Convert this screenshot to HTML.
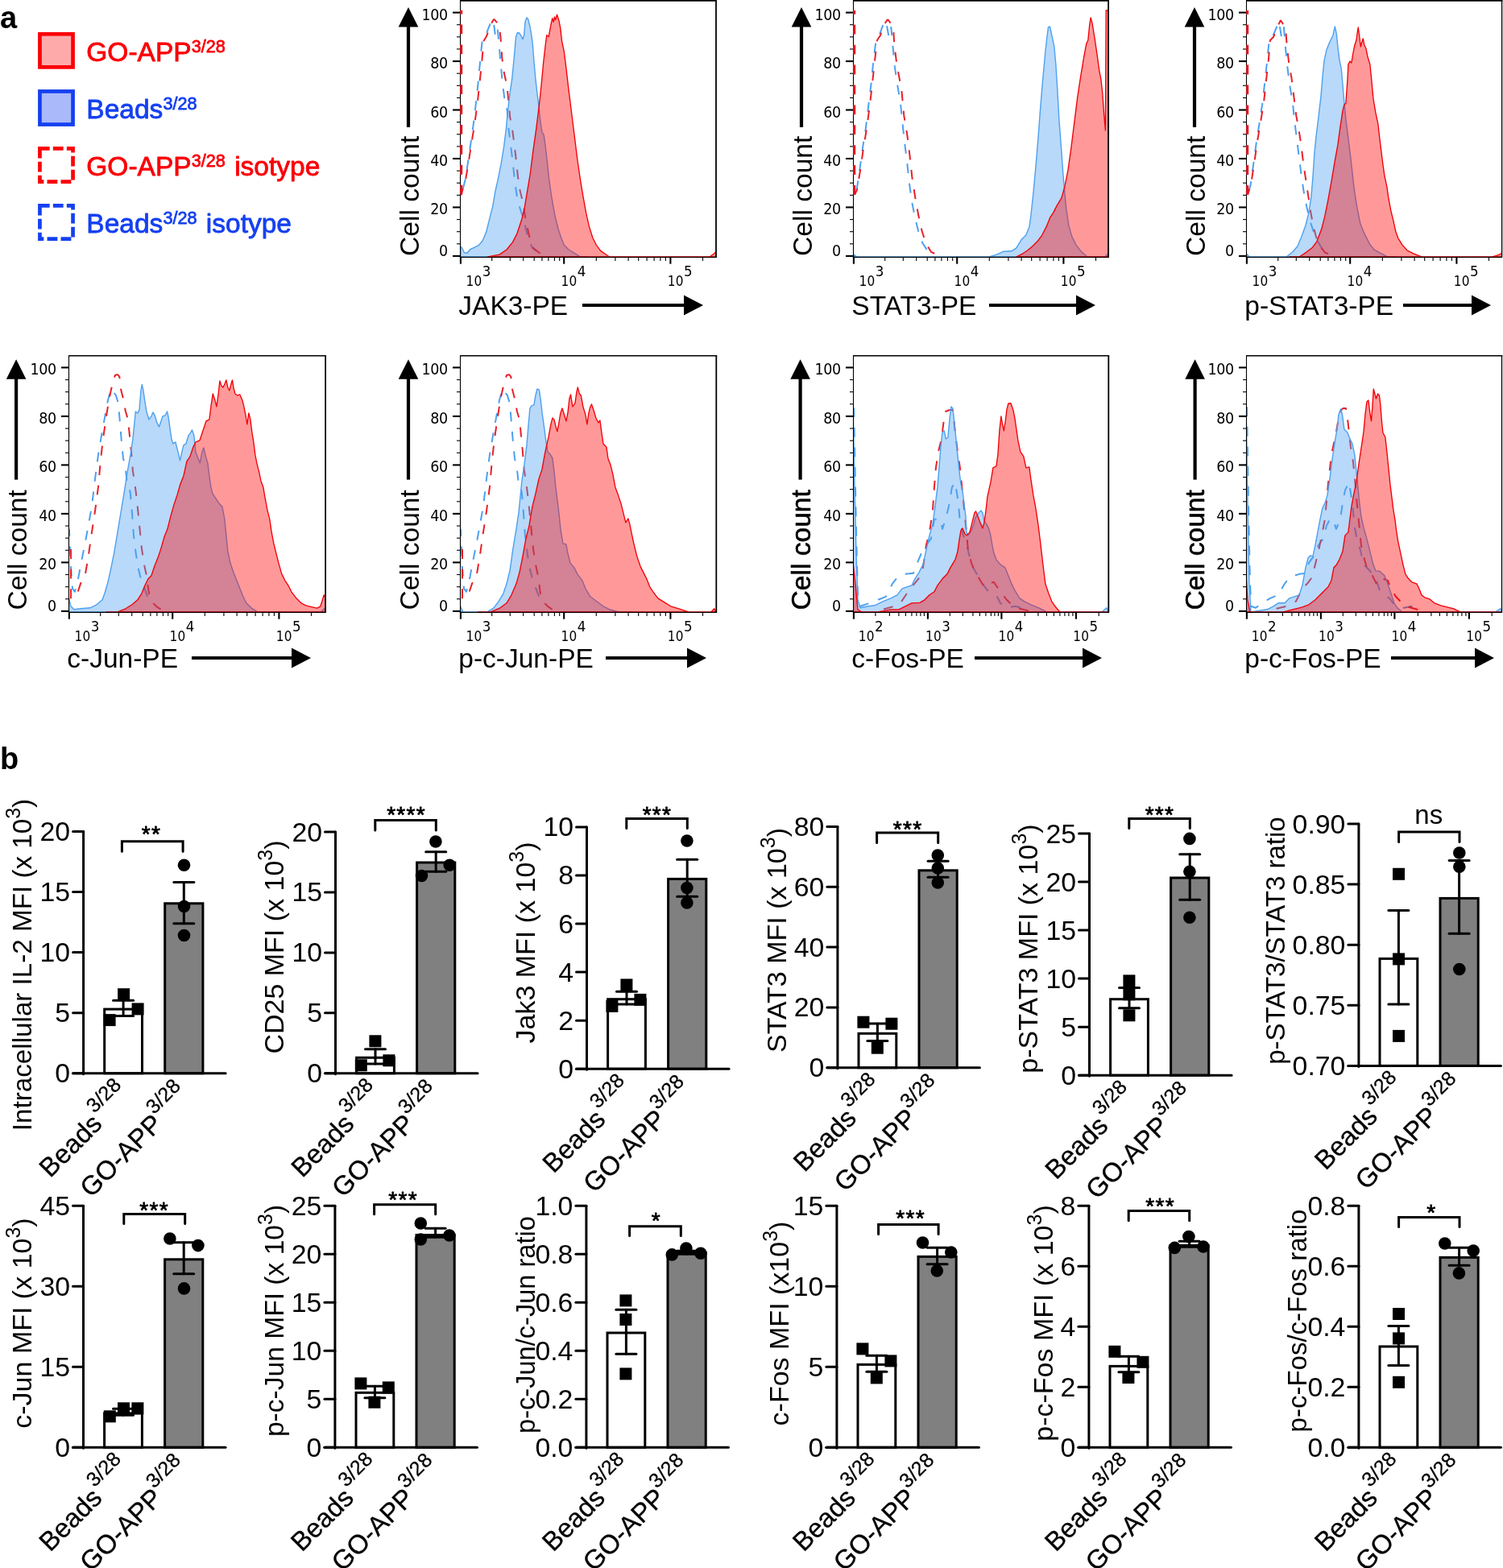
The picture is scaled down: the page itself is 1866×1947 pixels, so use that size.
<!DOCTYPE html>
<html lang="en">
<head>
<meta charset="utf-8">
<title>Figure</title>
<style>
html,body{margin:0;padding:0;background:#fff;}
body{width:1866px;height:1947px;overflow:hidden;}
svg{display:block;}
text{white-space:pre;}
</style>
</head>
<body>
<svg width="1866" height="1947" viewBox="0 0 1866 1947">
<rect x="0" y="0" width="1866" height="1947" fill="#fff"/>
<text x="0" y="34.5" font-family='"Liberation Sans", Arial, Helvetica, sans-serif' font-size="38" font-weight="bold" fill="#000">a</text>
<text x="0" y="954.5" font-family='"Liberation Sans", Arial, Helvetica, sans-serif' font-size="38" font-weight="bold" fill="#000">b</text>
<rect x="49.45" y="42.25" width="41.1" height="41.1" fill="#ffaaaa" stroke="#fb0007" stroke-width="4.7"/>
<text x="107.3" y="75.9" font-family='"Liberation Sans", Arial, Helvetica, sans-serif' font-size="33.5" fill="#fb0007" stroke="#fb0007" stroke-width="0.8" stroke-linejoin="round">GO-APP<tspan font-size="21.6" dx="0.2" dy="-10.8">3/28</tspan></text>
<rect x="49.45" y="113.45" width="41.1" height="41.1" fill="#aab9fa" stroke="#1540f0" stroke-width="4.7"/>
<text x="107.3" y="147.1" font-family='"Liberation Sans", Arial, Helvetica, sans-serif' font-size="33.5" fill="#1540f0" stroke="#1540f0" stroke-width="0.8" stroke-linejoin="round">Beads<tspan font-size="21.6" dx="0.2" dy="-10.8">3/28</tspan></text>
<rect x="49.45" y="184.45" width="41.1" height="41.1" fill="none" stroke="#fb0007" stroke-width="4.7" stroke-dasharray="12.8 4.2" stroke-dashoffset="0.6"/>
<text x="107.3" y="218.1" font-family='"Liberation Sans", Arial, Helvetica, sans-serif' font-size="33.5" fill="#fb0007" stroke="#fb0007" stroke-width="0.8" stroke-linejoin="round">GO-APP<tspan font-size="21.6" dx="0.2" dy="-10.8">3/28</tspan><tspan dx="2" dy="10.8"> isotype</tspan></text>
<rect x="49.45" y="255.45" width="41.1" height="41.1" fill="none" stroke="#1540f0" stroke-width="4.7" stroke-dasharray="12.8 4.2" stroke-dashoffset="0.6"/>
<text x="107.3" y="289.1" font-family='"Liberation Sans", Arial, Helvetica, sans-serif' font-size="33.5" fill="#1540f0" stroke="#1540f0" stroke-width="0.8" stroke-linejoin="round">Beads<tspan font-size="21.6" dx="0.2" dy="-10.8">3/28</tspan><tspan dx="2" dy="10.8"> isotype</tspan></text>
<g>
<clipPath id="clip1"><rect x="571" y="0.9" width="318" height="318.4"/></clipPath>
<g clip-path="url(#clip1)">
<polyline points="612.48,24.6 609.56,27.33 605.92,36.44 602.27,45.55 598.63,51.02 596.08,76.53 593.71,102.04 590.98,127.55 587.7,154.88 584.6,176.74 581.14,200.43 577.86,222.29 574.58,235.05 572.39,242.34" fill="none" stroke="#4da0f0" stroke-width="2" stroke-dasharray="12 12.6" stroke-dashoffset="18.3" stroke-linejoin="round" stroke-opacity="1"/>
<polyline points="612.48,24.6 614.66,41.91 617.4,32.8 619.22,51.02 621.04,72.88 623.77,102.04 626.51,123.9 629.6,136.66 631.06,156.7 633.79,178.56 636.53,200.43 639.26,225.94 642.36,247.8 645.64,258.74 649.28,269.67 652.93,284.24 656.57,298.82 661.13,307.93 669.32,314.31" fill="none" stroke="#4da0f0" stroke-width="2" stroke-dasharray="12 12.6" stroke-dashoffset="18.3" stroke-linejoin="round" stroke-opacity="1"/>
<polyline points="613.2,23.69 611.02,27.33 607.37,36.44 603.73,45.55 600.45,51.02 598.26,76.53 595.53,102.04 592.8,127.55 589.15,154.88 585.51,176.74 581.86,200.43 578.22,222.29 574.58,235.05 572.39,242.34" fill="none" stroke="#e8141e" stroke-width="2" stroke-dasharray="12 12.6" stroke-dashoffset="6" stroke-linejoin="round" stroke-opacity="0.95"/>
<polyline points="613.2,23.69 616.48,27.33 619.76,31.89 621.59,47.37 623.41,72.88 625.96,91.1 629.24,105.68 631.43,125.72 633.25,145.77 636.53,163.99 640.17,193.14 642.9,218.65 645.64,236.87 649.28,251.45 652.02,269.67 655.11,284.24 658.39,298.82 662.04,307.93 669.32,313.76 680.26,317.41" fill="none" stroke="#e8141e" stroke-width="2" stroke-dasharray="12 12.6" stroke-dashoffset="6" stroke-linejoin="round" stroke-opacity="0.95"/>
<polygon points="571.84,318.95 571.84,306.11 573.67,307.93 576.4,313.76 580.04,314.31 583.69,309.75 589.15,307.02 594.62,304.29 599.17,298.82 603.73,287.89 608.29,269.67 611.93,255.09 614.66,238.69 618.31,222.29 621.95,204.07 625.59,182.21 628.33,160.34 630.15,140.3 632.88,116.61 635.62,98.39 637.44,80.17 639.26,60.13 640.54,45.55 642.36,40.45 644.73,41 647.1,44.64 648.92,48.83 650.56,43.73 652.02,27.33 653.84,21.86 655.66,23.69 657.48,30.98 659.3,40.09 661.13,52.84 662.95,76.53 664.77,96.57 666.59,112.97 668.78,131.19 671.15,153.05 672.97,163.99 675.16,167.63 676.98,180.39 679.35,200.43 681.17,218.65 683.9,238.69 686.63,255.09 689.37,269.67 693.01,284.24 696.66,295.18 700.3,304.29 705.77,309.75 713.05,314.31 720.34,318.95 727.63,318.95" fill="#4da0f0" fill-opacity="0.4" stroke="#4da0f0" stroke-width="1.4" stroke-linejoin="round"/>
<polygon points="605.55,318.95 620.13,316.13 629.24,309.75 636.53,300.64 641.99,289.71 647.46,273.31 651.1,258.74 654.75,236.87 658.39,215.01 662.04,185.85 665.68,160.34 669.32,131.19 672.06,105.68 674.79,76.53 677.52,52.84 678.8,43.73 681.17,45.55 683.9,30.98 685.72,22.78 687.18,27.33 688.46,20.95 689.73,24.6 691.55,18.22 693.92,25.51 695.74,34.62 697.57,51.02 700.3,63.77 703.03,85.64 705.77,109.32 709.41,138.48 713.05,167.63 716.7,196.78 720.34,222.29 723.99,244.16 727.63,264.2 731.28,280.6 735.83,295.18 740.39,304.29 745.85,311.58 751.32,315.22 756.78,318.95 767.72,318.95 880.69,318.95 886.15,315.22 888.89,312.49 888.89,318.95" fill="#ff0000" fill-opacity="0.4" stroke="#f20008" stroke-width="1.35" stroke-linejoin="round"/>
</g>
<g stroke="#000" stroke-linecap="butt">
<line x1="571.5" y1="0.1" x2="571.5" y2="319.9" stroke-width="1.1"/>
<line x1="571" y1="0.9" x2="889.9" y2="0.9" stroke-width="1.8"/>
<line x1="889" y1="0.9" x2="889" y2="319.9" stroke-width="1.8"/>
<line x1="571.5" y1="319.3" x2="889" y2="319.3" stroke-width="1.2"/>
</g>
<line x1="562" y1="317.9" x2="571.5" y2="317.9" stroke="#000" stroke-width="2.1"/>
<text x="555.6" y="318" font-family='"DejaVu Sans Condensed", "DejaVu Sans", "Liberation Sans", sans-serif' font-size="19.5" letter-spacing="-0.5" text-anchor="end" fill="#000">0</text>
<line x1="567" y1="302.79" x2="571.5" y2="302.79" stroke="#000" stroke-width="1.1"/>
<line x1="567" y1="287.67" x2="571.5" y2="287.67" stroke="#000" stroke-width="1.1"/>
<line x1="567" y1="272.56" x2="571.5" y2="272.56" stroke="#000" stroke-width="1.1"/>
<line x1="562" y1="257.44" x2="571.5" y2="257.44" stroke="#000" stroke-width="2.1"/>
<text x="555.6" y="266.44" font-family='"DejaVu Sans Condensed", "DejaVu Sans", "Liberation Sans", sans-serif' font-size="19.5" letter-spacing="-0.5" text-anchor="end" fill="#000">20</text>
<line x1="567" y1="242.33" x2="571.5" y2="242.33" stroke="#000" stroke-width="1.1"/>
<line x1="567" y1="227.21" x2="571.5" y2="227.21" stroke="#000" stroke-width="1.1"/>
<line x1="567" y1="212.1" x2="571.5" y2="212.1" stroke="#000" stroke-width="1.1"/>
<line x1="562" y1="196.98" x2="571.5" y2="196.98" stroke="#000" stroke-width="2.1"/>
<text x="555.6" y="205.98" font-family='"DejaVu Sans Condensed", "DejaVu Sans", "Liberation Sans", sans-serif' font-size="19.5" letter-spacing="-0.5" text-anchor="end" fill="#000">40</text>
<line x1="567" y1="181.87" x2="571.5" y2="181.87" stroke="#000" stroke-width="1.1"/>
<line x1="567" y1="166.75" x2="571.5" y2="166.75" stroke="#000" stroke-width="1.1"/>
<line x1="567" y1="151.64" x2="571.5" y2="151.64" stroke="#000" stroke-width="1.1"/>
<line x1="562" y1="136.52" x2="571.5" y2="136.52" stroke="#000" stroke-width="2.1"/>
<text x="555.6" y="145.52" font-family='"DejaVu Sans Condensed", "DejaVu Sans", "Liberation Sans", sans-serif' font-size="19.5" letter-spacing="-0.5" text-anchor="end" fill="#000">60</text>
<line x1="567" y1="121.41" x2="571.5" y2="121.41" stroke="#000" stroke-width="1.1"/>
<line x1="567" y1="106.29" x2="571.5" y2="106.29" stroke="#000" stroke-width="1.1"/>
<line x1="567" y1="91.18" x2="571.5" y2="91.18" stroke="#000" stroke-width="1.1"/>
<line x1="562" y1="76.06" x2="571.5" y2="76.06" stroke="#000" stroke-width="2.1"/>
<text x="555.6" y="85.06" font-family='"DejaVu Sans Condensed", "DejaVu Sans", "Liberation Sans", sans-serif' font-size="19.5" letter-spacing="-0.5" text-anchor="end" fill="#000">80</text>
<line x1="567" y1="60.95" x2="571.5" y2="60.95" stroke="#000" stroke-width="1.1"/>
<line x1="567" y1="45.83" x2="571.5" y2="45.83" stroke="#000" stroke-width="1.1"/>
<line x1="567" y1="30.72" x2="571.5" y2="30.72" stroke="#000" stroke-width="1.1"/>
<line x1="562" y1="15.6" x2="571.5" y2="15.6" stroke="#000" stroke-width="2.1"/>
<text x="555.6" y="24.6" font-family='"DejaVu Sans Condensed", "DejaVu Sans", "Liberation Sans", sans-serif' font-size="19.5" letter-spacing="-0.5" text-anchor="end" fill="#000">100</text>
<line x1="571.9" y1="318.8" x2="571.9" y2="327.7" stroke="#000" stroke-width="2.1"/>
<line x1="700.2" y1="318.8" x2="700.2" y2="327.7" stroke="#000" stroke-width="2.1"/>
<line x1="832.4" y1="318.8" x2="832.4" y2="327.7" stroke="#000" stroke-width="2.1"/>
<line x1="610.7" y1="319.3" x2="610.7" y2="323.9" stroke="#000" stroke-width="1.1"/>
<line x1="633.3" y1="319.3" x2="633.3" y2="323.9" stroke="#000" stroke-width="1.1"/>
<line x1="649.7" y1="319.3" x2="649.7" y2="323.9" stroke="#000" stroke-width="1.1"/>
<line x1="663.2" y1="319.3" x2="663.2" y2="323.9" stroke="#000" stroke-width="1.1"/>
<line x1="672.9" y1="319.3" x2="672.9" y2="323.9" stroke="#000" stroke-width="1.1"/>
<line x1="680.9" y1="319.3" x2="680.9" y2="323.9" stroke="#000" stroke-width="1.1"/>
<line x1="688.4" y1="319.3" x2="688.4" y2="323.9" stroke="#000" stroke-width="1.1"/>
<line x1="694.7" y1="319.3" x2="694.7" y2="323.9" stroke="#000" stroke-width="1.1"/>
<line x1="740.3" y1="319.3" x2="740.3" y2="323.9" stroke="#000" stroke-width="1.1"/>
<line x1="763.9" y1="319.3" x2="763.9" y2="323.9" stroke="#000" stroke-width="1.1"/>
<line x1="780.1" y1="319.3" x2="780.1" y2="323.9" stroke="#000" stroke-width="1.1"/>
<line x1="792.7" y1="319.3" x2="792.7" y2="323.9" stroke="#000" stroke-width="1.1"/>
<line x1="803.1" y1="319.3" x2="803.1" y2="323.9" stroke="#000" stroke-width="1.1"/>
<line x1="812.1" y1="319.3" x2="812.1" y2="323.9" stroke="#000" stroke-width="1.1"/>
<line x1="819.9" y1="319.3" x2="819.9" y2="323.9" stroke="#000" stroke-width="1.1"/>
<line x1="826.4" y1="319.3" x2="826.4" y2="323.9" stroke="#000" stroke-width="1.1"/>
<line x1="872.5" y1="319.3" x2="872.5" y2="323.9" stroke="#000" stroke-width="1.1"/>
<text x="578.5" y="355.1" font-family='"DejaVu Sans Condensed", "DejaVu Sans", "Liberation Sans", sans-serif' font-size="17" letter-spacing="0.3" fill="#000">10<tspan font-size="18.5" dx="0.2" dy="-12">3</tspan></text>
<text x="696.5" y="355.1" font-family='"DejaVu Sans Condensed", "DejaVu Sans", "Liberation Sans", sans-serif' font-size="17" letter-spacing="0.3" fill="#000">10<tspan font-size="18.5" dx="0.2" dy="-12">4</tspan></text>
<text x="828.8" y="355.1" font-family='"DejaVu Sans Condensed", "DejaVu Sans", "Liberation Sans", sans-serif' font-size="17" letter-spacing="0.3" fill="#000">10<tspan font-size="18.5" dx="0.2" dy="-12">5</tspan></text>
<line x1="572.7" y1="12.65" x2="572.7" y2="242.24" stroke="#e8141e" stroke-width="3" stroke-dasharray="11.8 13.1" stroke-dashoffset="7"/>
</g>
<text transform="translate(519.5 318) rotate(-90)" font-family='"Liberation Sans", Arial, Helvetica, sans-serif' font-size="33.6" fill="#000">Cell count</text>
<line x1="507" y1="158" x2="507" y2="32.5" stroke="#000" stroke-width="4.2"/>
<polygon points="494.7,33.5 519.3,33.5 507,9" fill="#000"/>
<text x="569.3" y="391" font-family='"Liberation Sans", Arial, Helvetica, sans-serif' font-size="33.5" fill="#000">JAK3-PE</text>
<line x1="723" y1="379" x2="850" y2="379" stroke="#000" stroke-width="4"/>
<polygon points="849,366.5 849,391.5 873,379" fill="#000"/>
<g>
<clipPath id="clip2"><rect x="1059" y="0.9" width="317.1" height="318.4"/></clipPath>
<g clip-path="url(#clip2)">
<polyline points="1099.96,25.98 1095.97,31.98 1091.57,43.97 1087.57,49.97 1084.37,75.95 1081.58,103.94 1078.38,129.92 1074.78,159.9 1070.98,183.89 1067.18,211.87 1063.59,235.86 1060.99,241.85" fill="none" stroke="#4da0f0" stroke-width="2" stroke-dasharray="12 12.6" stroke-dashoffset="18.3" stroke-linejoin="round" stroke-opacity="1"/>
<polyline points="1099.96,25.98 1103.56,45.97 1106.36,33.98 1108.36,55.97 1110.96,83.95 1113.96,103.94 1117.95,127.92 1120.35,151.91 1122.95,175.89 1125.95,199.88 1128.95,227.86 1132.34,251.85 1136.34,271.84 1140.34,287.83 1145.34,301.82 1151.93,311.81" fill="none" stroke="#4da0f0" stroke-width="2" stroke-dasharray="12 12.6" stroke-dashoffset="18.3" stroke-linejoin="round" stroke-opacity="1"/>
<polyline points="1101.96,23.99 1096.97,31.98 1092.97,43.97 1088.97,49.97 1085.97,75.95 1082.97,103.94 1079.98,129.92 1075.98,159.9 1071.98,183.89 1067.98,211.87 1063.99,235.86 1060.99,241.85" fill="none" stroke="#e8141e" stroke-width="2" stroke-dasharray="12 12.6" stroke-dashoffset="6" stroke-linejoin="round" stroke-opacity="0.95"/>
<polyline points="1101.96,23.99 1105.96,28.98 1108.96,32.98 1110.36,55.97 1113.36,79.95 1116.35,95.94 1119.35,111.93 1122.35,143.91 1126.35,167.9 1129.35,191.88 1132.34,219.87 1136.34,245.85 1140.34,267.84 1144.34,285.83 1149.33,301.82 1155.93,312.81 1165.92,317.41" fill="none" stroke="#e8141e" stroke-width="2" stroke-dasharray="12 12.6" stroke-dashoffset="6" stroke-linejoin="round" stroke-opacity="0.95"/>
<polygon points="1059.59,318.95 1059.59,315.81 1063.99,318.95 1227.89,318.95 1237.88,315.81 1245.88,312.21 1255.87,311.81 1261.87,307.82 1267.86,297.82 1273.86,291.82 1277.86,281.83 1279.86,267.84 1282.85,239.86 1285.85,207.88 1288.85,171.9 1291.85,131.92 1294.85,95.94 1297.85,63.96 1299.84,45.97 1301.44,33.98 1303.44,32.98 1305.84,43.97 1308.84,57.97 1310.84,79.95 1312.84,111.93 1314.84,147.91 1317.83,187.89 1319.83,215.87 1321.83,239.86 1323.83,259.84 1326.83,279.83 1330.83,293.82 1335.82,303.82 1341.82,311.81 1349.81,318.95 1359.81,318.95 1371.8,318.95 1375.8,314.81 1375.8,318.95" fill="#4da0f0" fill-opacity="0.4" stroke="#4da0f0" stroke-width="1.4" stroke-linejoin="round"/>
<polygon points="1261.87,318.95 1269.86,314.81 1275.86,310.81 1281.85,305.82 1287.85,299.82 1293.85,291.82 1299.84,279.83 1303.84,269.84 1307.84,263.84 1311.84,255.85 1317.83,245.85 1321.83,231.86 1325.83,211.87 1329.83,183.89 1333.82,151.91 1337.82,119.93 1341.82,93.94 1345.82,69.96 1348.81,53.97 1350.81,49.97 1352.81,29.98 1354.21,21.99 1356.21,29.98 1358.81,45.97 1361.81,65.96 1364.81,87.95 1366.8,97.94 1368.8,115.93 1370.8,143.91 1372.4,161.9 1373.2,12.99 1375.8,12.99 1375.8,318.95" fill="#ff0000" fill-opacity="0.4" stroke="#f20008" stroke-width="1.35" stroke-linejoin="round"/>
</g>
<g stroke="#000" stroke-linecap="butt">
<line x1="1059.5" y1="0.1" x2="1059.5" y2="319.9" stroke-width="1.1"/>
<line x1="1059" y1="0.9" x2="1377" y2="0.9" stroke-width="1.8"/>
<line x1="1376.1" y1="0.9" x2="1376.1" y2="319.9" stroke-width="1.8"/>
<line x1="1059.5" y1="319.3" x2="1376.1" y2="319.3" stroke-width="1.2"/>
</g>
<line x1="1050" y1="317.9" x2="1059.5" y2="317.9" stroke="#000" stroke-width="2.1"/>
<text x="1043.6" y="318" font-family='"DejaVu Sans Condensed", "DejaVu Sans", "Liberation Sans", sans-serif' font-size="19.5" letter-spacing="-0.5" text-anchor="end" fill="#000">0</text>
<line x1="1055" y1="302.79" x2="1059.5" y2="302.79" stroke="#000" stroke-width="1.1"/>
<line x1="1055" y1="287.67" x2="1059.5" y2="287.67" stroke="#000" stroke-width="1.1"/>
<line x1="1055" y1="272.56" x2="1059.5" y2="272.56" stroke="#000" stroke-width="1.1"/>
<line x1="1050" y1="257.44" x2="1059.5" y2="257.44" stroke="#000" stroke-width="2.1"/>
<text x="1043.6" y="266.44" font-family='"DejaVu Sans Condensed", "DejaVu Sans", "Liberation Sans", sans-serif' font-size="19.5" letter-spacing="-0.5" text-anchor="end" fill="#000">20</text>
<line x1="1055" y1="242.33" x2="1059.5" y2="242.33" stroke="#000" stroke-width="1.1"/>
<line x1="1055" y1="227.21" x2="1059.5" y2="227.21" stroke="#000" stroke-width="1.1"/>
<line x1="1055" y1="212.1" x2="1059.5" y2="212.1" stroke="#000" stroke-width="1.1"/>
<line x1="1050" y1="196.98" x2="1059.5" y2="196.98" stroke="#000" stroke-width="2.1"/>
<text x="1043.6" y="205.98" font-family='"DejaVu Sans Condensed", "DejaVu Sans", "Liberation Sans", sans-serif' font-size="19.5" letter-spacing="-0.5" text-anchor="end" fill="#000">40</text>
<line x1="1055" y1="181.87" x2="1059.5" y2="181.87" stroke="#000" stroke-width="1.1"/>
<line x1="1055" y1="166.75" x2="1059.5" y2="166.75" stroke="#000" stroke-width="1.1"/>
<line x1="1055" y1="151.64" x2="1059.5" y2="151.64" stroke="#000" stroke-width="1.1"/>
<line x1="1050" y1="136.52" x2="1059.5" y2="136.52" stroke="#000" stroke-width="2.1"/>
<text x="1043.6" y="145.52" font-family='"DejaVu Sans Condensed", "DejaVu Sans", "Liberation Sans", sans-serif' font-size="19.5" letter-spacing="-0.5" text-anchor="end" fill="#000">60</text>
<line x1="1055" y1="121.41" x2="1059.5" y2="121.41" stroke="#000" stroke-width="1.1"/>
<line x1="1055" y1="106.29" x2="1059.5" y2="106.29" stroke="#000" stroke-width="1.1"/>
<line x1="1055" y1="91.18" x2="1059.5" y2="91.18" stroke="#000" stroke-width="1.1"/>
<line x1="1050" y1="76.06" x2="1059.5" y2="76.06" stroke="#000" stroke-width="2.1"/>
<text x="1043.6" y="85.06" font-family='"DejaVu Sans Condensed", "DejaVu Sans", "Liberation Sans", sans-serif' font-size="19.5" letter-spacing="-0.5" text-anchor="end" fill="#000">80</text>
<line x1="1055" y1="60.95" x2="1059.5" y2="60.95" stroke="#000" stroke-width="1.1"/>
<line x1="1055" y1="45.83" x2="1059.5" y2="45.83" stroke="#000" stroke-width="1.1"/>
<line x1="1055" y1="30.72" x2="1059.5" y2="30.72" stroke="#000" stroke-width="1.1"/>
<line x1="1050" y1="15.6" x2="1059.5" y2="15.6" stroke="#000" stroke-width="2.1"/>
<text x="1043.6" y="24.6" font-family='"DejaVu Sans Condensed", "DejaVu Sans", "Liberation Sans", sans-serif' font-size="19.5" letter-spacing="-0.5" text-anchor="end" fill="#000">100</text>
<line x1="1059.9" y1="318.8" x2="1059.9" y2="327.7" stroke="#000" stroke-width="2.1"/>
<line x1="1188.2" y1="318.8" x2="1188.2" y2="327.7" stroke="#000" stroke-width="2.1"/>
<line x1="1320.4" y1="318.8" x2="1320.4" y2="327.7" stroke="#000" stroke-width="2.1"/>
<line x1="1098.7" y1="319.3" x2="1098.7" y2="323.9" stroke="#000" stroke-width="1.1"/>
<line x1="1121.3" y1="319.3" x2="1121.3" y2="323.9" stroke="#000" stroke-width="1.1"/>
<line x1="1137.7" y1="319.3" x2="1137.7" y2="323.9" stroke="#000" stroke-width="1.1"/>
<line x1="1151.2" y1="319.3" x2="1151.2" y2="323.9" stroke="#000" stroke-width="1.1"/>
<line x1="1160.9" y1="319.3" x2="1160.9" y2="323.9" stroke="#000" stroke-width="1.1"/>
<line x1="1168.9" y1="319.3" x2="1168.9" y2="323.9" stroke="#000" stroke-width="1.1"/>
<line x1="1176.4" y1="319.3" x2="1176.4" y2="323.9" stroke="#000" stroke-width="1.1"/>
<line x1="1182.7" y1="319.3" x2="1182.7" y2="323.9" stroke="#000" stroke-width="1.1"/>
<line x1="1228.3" y1="319.3" x2="1228.3" y2="323.9" stroke="#000" stroke-width="1.1"/>
<line x1="1251.9" y1="319.3" x2="1251.9" y2="323.9" stroke="#000" stroke-width="1.1"/>
<line x1="1268.1" y1="319.3" x2="1268.1" y2="323.9" stroke="#000" stroke-width="1.1"/>
<line x1="1280.7" y1="319.3" x2="1280.7" y2="323.9" stroke="#000" stroke-width="1.1"/>
<line x1="1291.1" y1="319.3" x2="1291.1" y2="323.9" stroke="#000" stroke-width="1.1"/>
<line x1="1300.1" y1="319.3" x2="1300.1" y2="323.9" stroke="#000" stroke-width="1.1"/>
<line x1="1307.9" y1="319.3" x2="1307.9" y2="323.9" stroke="#000" stroke-width="1.1"/>
<line x1="1314.4" y1="319.3" x2="1314.4" y2="323.9" stroke="#000" stroke-width="1.1"/>
<line x1="1360.5" y1="319.3" x2="1360.5" y2="323.9" stroke="#000" stroke-width="1.1"/>
<text x="1066.5" y="355.1" font-family='"DejaVu Sans Condensed", "DejaVu Sans", "Liberation Sans", sans-serif' font-size="17" letter-spacing="0.3" fill="#000">10<tspan font-size="18.5" dx="0.2" dy="-12">3</tspan></text>
<text x="1184.5" y="355.1" font-family='"DejaVu Sans Condensed", "DejaVu Sans", "Liberation Sans", sans-serif' font-size="17" letter-spacing="0.3" fill="#000">10<tspan font-size="18.5" dx="0.2" dy="-12">4</tspan></text>
<text x="1316.8" y="355.1" font-family='"DejaVu Sans Condensed", "DejaVu Sans", "Liberation Sans", sans-serif' font-size="17" letter-spacing="0.3" fill="#000">10<tspan font-size="18.5" dx="0.2" dy="-12">5</tspan></text>
<line x1="1060.7" y1="12.89" x2="1060.7" y2="241.75" stroke="#e8141e" stroke-width="3" stroke-dasharray="11.8 13.1" stroke-dashoffset="7"/>
</g>
<text transform="translate(1007.5 318) rotate(-90)" font-family='"Liberation Sans", Arial, Helvetica, sans-serif' font-size="33.6" fill="#000">Cell count</text>
<line x1="995" y1="158" x2="995" y2="32.5" stroke="#000" stroke-width="4.2"/>
<polygon points="982.7,33.5 1007.3,33.5 995,9" fill="#000"/>
<text x="1057.3" y="391" font-family='"Liberation Sans", Arial, Helvetica, sans-serif' font-size="33.5" fill="#000">STAT3-PE</text>
<line x1="1228" y1="379" x2="1337" y2="379" stroke="#000" stroke-width="4"/>
<polygon points="1336,366.5 1336,391.5 1360,379" fill="#000"/>
<g>
<clipPath id="clip3"><rect x="1547" y="0.9" width="317.6" height="318.4"/></clipPath>
<g clip-path="url(#clip3)">
<polyline points="1587.94,26.98 1583.95,35.98 1579.75,45.97 1575.75,49.97 1573.35,73.96 1570.55,99.94 1567.36,127.92 1563.76,151.91 1559.96,175.89 1556.16,203.88 1552.56,229.86 1548.97,241.85" fill="none" stroke="#4da0f0" stroke-width="2" stroke-dasharray="12 12.6" stroke-dashoffset="18.3" stroke-linejoin="round" stroke-opacity="1"/>
<polyline points="1587.94,26.98 1590.94,45.97 1593.94,33.98 1595.34,51.97 1597.94,79.95 1600.94,103.94 1604.93,127.92 1607.33,151.91 1609.93,171.9 1612.93,195.88 1615.93,219.87 1618.92,239.86 1622.92,259.84 1626.92,275.83 1630.92,287.83 1635.91,299.82 1640.91,307.82" fill="none" stroke="#4da0f0" stroke-width="2" stroke-dasharray="12 12.6" stroke-dashoffset="18.3" stroke-linejoin="round" stroke-opacity="1"/>
<polyline points="1589.94,24.99 1584.94,35.98 1580.95,45.97 1576.95,49.97 1574.95,73.96 1571.95,99.94 1568.95,127.92 1564.96,151.91 1560.96,175.89 1556.96,203.88 1552.96,229.86 1548.97,241.85" fill="none" stroke="#e8141e" stroke-width="2" stroke-dasharray="12 12.6" stroke-dashoffset="6" stroke-linejoin="round" stroke-opacity="0.95"/>
<polyline points="1589.94,24.99 1592.94,29.98 1595.94,32.98 1597.34,51.97 1600.34,79.95 1603.33,95.94 1606.33,119.93 1609.33,143.91 1612.33,159.9 1615.33,179.89 1618.32,203.88 1621.32,223.87 1624.32,243.85 1627.32,263.84 1630.32,279.83 1633.32,291.82 1637.31,303.82 1645.31,313.81 1656.9,317.81" fill="none" stroke="#e8141e" stroke-width="2" stroke-dasharray="12 12.6" stroke-dashoffset="6" stroke-linejoin="round" stroke-opacity="0.95"/>
<polygon points="1547.37,318.95 1547.37,314.81 1550.97,318.95 1582.95,318.95 1596.94,318.95 1604.93,312.81 1610.93,305.82 1615.93,293.82 1620.92,279.83 1624.92,263.84 1627.92,243.85 1629.92,219.87 1631.92,189.89 1633.92,169.9 1636.91,145.91 1639.91,119.93 1641.91,95.94 1643.91,75.95 1646.91,61.96 1650.91,51.97 1654.9,43.97 1657.3,32.98 1659.3,41.97 1660.9,57.97 1662.9,73.96 1665.3,85.95 1666.9,103.94 1668.89,127.92 1670.89,147.91 1672.89,163.9 1674.89,179.89 1676.89,195.88 1678.89,213.87 1680.89,231.86 1682.89,245.85 1684.88,257.85 1686.88,267.84 1688.88,277.83 1692.88,287.83 1696.88,295.82 1700.88,303.82 1705.87,309.81 1712.87,313.81 1722.86,318.95 1732.86,318.95" fill="#4da0f0" fill-opacity="0.4" stroke="#4da0f0" stroke-width="1.4" stroke-linejoin="round"/>
<polygon points="1600.94,318.95 1612.93,318.95 1620.92,313.81 1628.92,307.82 1634.91,299.82 1640.91,283.83 1644.91,267.84 1648.91,247.85 1652.9,225.86 1656.9,201.88 1660.9,179.89 1663.9,157.91 1666.9,137.92 1668.89,129.92 1670.89,127.92 1672.89,99.94 1673.89,79.95 1675.89,75.95 1677.89,77.95 1679.89,65.96 1681.89,55.97 1683.89,49.97 1685.28,39.98 1686.28,33.98 1687.88,45.97 1689.28,57.97 1690.88,51.97 1692.28,47.97 1693.88,55.97 1695.88,59.96 1697.88,69.96 1700.88,79.95 1702.87,99.94 1704.87,121.93 1707.87,139.92 1710.87,153.91 1712.87,171.9 1714.87,187.89 1716.87,203.88 1718.86,217.87 1721.86,231.86 1723.86,245.85 1726.86,261.84 1729.86,273.84 1732.86,287.83 1735.85,295.82 1740.85,303.82 1746.85,310.81 1754.84,314.81 1764.84,318.95 1782.83,318.95 1852.78,318.95 1861.78,316.21 1864.78,313.81 1864.78,318.95" fill="#ff0000" fill-opacity="0.4" stroke="#f20008" stroke-width="1.35" stroke-linejoin="round"/>
</g>
<g stroke="#000" stroke-linecap="butt">
<line x1="1547.5" y1="0.1" x2="1547.5" y2="319.9" stroke-width="1.1"/>
<line x1="1547" y1="0.9" x2="1865.5" y2="0.9" stroke-width="1.8"/>
<line x1="1864.6" y1="0.9" x2="1864.6" y2="319.9" stroke-width="1.3"/>
<line x1="1547.5" y1="319.3" x2="1864.6" y2="319.3" stroke-width="1.2"/>
</g>
<line x1="1538" y1="317.9" x2="1547.5" y2="317.9" stroke="#000" stroke-width="2.1"/>
<text x="1531.6" y="318" font-family='"DejaVu Sans Condensed", "DejaVu Sans", "Liberation Sans", sans-serif' font-size="19.5" letter-spacing="-0.5" text-anchor="end" fill="#000">0</text>
<line x1="1543" y1="302.79" x2="1547.5" y2="302.79" stroke="#000" stroke-width="1.1"/>
<line x1="1543" y1="287.67" x2="1547.5" y2="287.67" stroke="#000" stroke-width="1.1"/>
<line x1="1543" y1="272.56" x2="1547.5" y2="272.56" stroke="#000" stroke-width="1.1"/>
<line x1="1538" y1="257.44" x2="1547.5" y2="257.44" stroke="#000" stroke-width="2.1"/>
<text x="1531.6" y="266.44" font-family='"DejaVu Sans Condensed", "DejaVu Sans", "Liberation Sans", sans-serif' font-size="19.5" letter-spacing="-0.5" text-anchor="end" fill="#000">20</text>
<line x1="1543" y1="242.33" x2="1547.5" y2="242.33" stroke="#000" stroke-width="1.1"/>
<line x1="1543" y1="227.21" x2="1547.5" y2="227.21" stroke="#000" stroke-width="1.1"/>
<line x1="1543" y1="212.1" x2="1547.5" y2="212.1" stroke="#000" stroke-width="1.1"/>
<line x1="1538" y1="196.98" x2="1547.5" y2="196.98" stroke="#000" stroke-width="2.1"/>
<text x="1531.6" y="205.98" font-family='"DejaVu Sans Condensed", "DejaVu Sans", "Liberation Sans", sans-serif' font-size="19.5" letter-spacing="-0.5" text-anchor="end" fill="#000">40</text>
<line x1="1543" y1="181.87" x2="1547.5" y2="181.87" stroke="#000" stroke-width="1.1"/>
<line x1="1543" y1="166.75" x2="1547.5" y2="166.75" stroke="#000" stroke-width="1.1"/>
<line x1="1543" y1="151.64" x2="1547.5" y2="151.64" stroke="#000" stroke-width="1.1"/>
<line x1="1538" y1="136.52" x2="1547.5" y2="136.52" stroke="#000" stroke-width="2.1"/>
<text x="1531.6" y="145.52" font-family='"DejaVu Sans Condensed", "DejaVu Sans", "Liberation Sans", sans-serif' font-size="19.5" letter-spacing="-0.5" text-anchor="end" fill="#000">60</text>
<line x1="1543" y1="121.41" x2="1547.5" y2="121.41" stroke="#000" stroke-width="1.1"/>
<line x1="1543" y1="106.29" x2="1547.5" y2="106.29" stroke="#000" stroke-width="1.1"/>
<line x1="1543" y1="91.18" x2="1547.5" y2="91.18" stroke="#000" stroke-width="1.1"/>
<line x1="1538" y1="76.06" x2="1547.5" y2="76.06" stroke="#000" stroke-width="2.1"/>
<text x="1531.6" y="85.06" font-family='"DejaVu Sans Condensed", "DejaVu Sans", "Liberation Sans", sans-serif' font-size="19.5" letter-spacing="-0.5" text-anchor="end" fill="#000">80</text>
<line x1="1543" y1="60.95" x2="1547.5" y2="60.95" stroke="#000" stroke-width="1.1"/>
<line x1="1543" y1="45.83" x2="1547.5" y2="45.83" stroke="#000" stroke-width="1.1"/>
<line x1="1543" y1="30.72" x2="1547.5" y2="30.72" stroke="#000" stroke-width="1.1"/>
<line x1="1538" y1="15.6" x2="1547.5" y2="15.6" stroke="#000" stroke-width="2.1"/>
<text x="1531.6" y="24.6" font-family='"DejaVu Sans Condensed", "DejaVu Sans", "Liberation Sans", sans-serif' font-size="19.5" letter-spacing="-0.5" text-anchor="end" fill="#000">100</text>
<line x1="1547.9" y1="318.8" x2="1547.9" y2="327.7" stroke="#000" stroke-width="2.1"/>
<line x1="1676.2" y1="318.8" x2="1676.2" y2="327.7" stroke="#000" stroke-width="2.1"/>
<line x1="1808.4" y1="318.8" x2="1808.4" y2="327.7" stroke="#000" stroke-width="2.1"/>
<line x1="1586.7" y1="319.3" x2="1586.7" y2="323.9" stroke="#000" stroke-width="1.1"/>
<line x1="1609.3" y1="319.3" x2="1609.3" y2="323.9" stroke="#000" stroke-width="1.1"/>
<line x1="1625.7" y1="319.3" x2="1625.7" y2="323.9" stroke="#000" stroke-width="1.1"/>
<line x1="1639.2" y1="319.3" x2="1639.2" y2="323.9" stroke="#000" stroke-width="1.1"/>
<line x1="1648.9" y1="319.3" x2="1648.9" y2="323.9" stroke="#000" stroke-width="1.1"/>
<line x1="1656.9" y1="319.3" x2="1656.9" y2="323.9" stroke="#000" stroke-width="1.1"/>
<line x1="1664.4" y1="319.3" x2="1664.4" y2="323.9" stroke="#000" stroke-width="1.1"/>
<line x1="1670.7" y1="319.3" x2="1670.7" y2="323.9" stroke="#000" stroke-width="1.1"/>
<line x1="1716.3" y1="319.3" x2="1716.3" y2="323.9" stroke="#000" stroke-width="1.1"/>
<line x1="1739.9" y1="319.3" x2="1739.9" y2="323.9" stroke="#000" stroke-width="1.1"/>
<line x1="1756.1" y1="319.3" x2="1756.1" y2="323.9" stroke="#000" stroke-width="1.1"/>
<line x1="1768.7" y1="319.3" x2="1768.7" y2="323.9" stroke="#000" stroke-width="1.1"/>
<line x1="1779.1" y1="319.3" x2="1779.1" y2="323.9" stroke="#000" stroke-width="1.1"/>
<line x1="1788.1" y1="319.3" x2="1788.1" y2="323.9" stroke="#000" stroke-width="1.1"/>
<line x1="1795.9" y1="319.3" x2="1795.9" y2="323.9" stroke="#000" stroke-width="1.1"/>
<line x1="1802.4" y1="319.3" x2="1802.4" y2="323.9" stroke="#000" stroke-width="1.1"/>
<line x1="1848.5" y1="319.3" x2="1848.5" y2="323.9" stroke="#000" stroke-width="1.1"/>
<text x="1554.5" y="355.1" font-family='"DejaVu Sans Condensed", "DejaVu Sans", "Liberation Sans", sans-serif' font-size="17" letter-spacing="0.3" fill="#000">10<tspan font-size="18.5" dx="0.2" dy="-12">3</tspan></text>
<text x="1672.5" y="355.1" font-family='"DejaVu Sans Condensed", "DejaVu Sans", "Liberation Sans", sans-serif' font-size="17" letter-spacing="0.3" fill="#000">10<tspan font-size="18.5" dx="0.2" dy="-12">4</tspan></text>
<text x="1804.8" y="355.1" font-family='"DejaVu Sans Condensed", "DejaVu Sans", "Liberation Sans", sans-serif' font-size="17" letter-spacing="0.3" fill="#000">10<tspan font-size="18.5" dx="0.2" dy="-12">5</tspan></text>
<line x1="1548.7" y1="12.89" x2="1548.7" y2="241.75" stroke="#e8141e" stroke-width="3" stroke-dasharray="11.8 13.1" stroke-dashoffset="7"/>
</g>
<text transform="translate(1495.5 318) rotate(-90)" font-family='"Liberation Sans", Arial, Helvetica, sans-serif' font-size="33.6" fill="#000">Cell count</text>
<line x1="1483" y1="158" x2="1483" y2="32.5" stroke="#000" stroke-width="4.2"/>
<polygon points="1470.7,33.5 1495.3,33.5 1483,9" fill="#000"/>
<text x="1545.3" y="391" font-family='"Liberation Sans", Arial, Helvetica, sans-serif' font-size="33.5" fill="#000">p-STAT3-PE</text>
<line x1="1742" y1="379" x2="1828" y2="379" stroke="#000" stroke-width="4"/>
<polygon points="1827,366.5 1827,391.5 1851,379" fill="#000"/>
<g>
<clipPath id="clip4"><rect x="85" y="441.7" width="319.1" height="318.6"/></clipPath>
<g clip-path="url(#clip4)">
<polyline points="137.95,482.97 133.96,496.96 129.96,518.94 125.96,540.93 121.96,564.92 117.97,594.9 113.97,628.88 109.97,650.86 105.97,672.85 101.97,692.84 96.98,718.82 92.98,734.81 89.98,730.82 87.98,704.83 86.98,680.85 85.98,656.86" fill="none" stroke="#4da0f0" stroke-width="2" stroke-dasharray="12 12.6" stroke-dashoffset="18.3" stroke-linejoin="round" stroke-opacity="1"/>
<polyline points="137.95,482.97 143.95,490.96 146.95,500.95 148.95,524.94 150.95,548.93 152.94,568.91 155.94,582.91 157.94,600.89 159.94,602.89 161.94,612.89 163.94,636.87 165.94,664.86 168.93,688.84 171.93,706.83 174.93,718.82 177.93,726.82 183.93,742.81 187.92,746.81" fill="none" stroke="#4da0f0" stroke-width="2" stroke-dasharray="12 12.6" stroke-dashoffset="18.3" stroke-linejoin="round" stroke-opacity="1"/>
<polyline points="145.95,464.98 142.95,465.98 139.95,474.97 135.95,492.96 131.96,516.94 127.96,544.93 124.96,570.91 121.96,604.89 117.97,634.87 113.97,660.86 109.97,688.84 105.97,712.83 99.98,724.82 95.98,736.81 89.98,742.81 87.98,742.81 87.98,680.85" fill="none" stroke="#e8141e" stroke-width="2" stroke-dasharray="12 12.6" stroke-dashoffset="6" stroke-linejoin="round" stroke-opacity="0.95"/>
<polyline points="145.95,464.98 148.35,467.97 149.95,482.97 152.94,494.96 155.94,510.95 158.94,520.94 160.94,540.93 162.94,560.92 164.94,584.9 167.94,604.89 169.93,620.88 171.93,640.87 173.93,660.86 175.93,680.85 178.93,700.83 181.93,714.83 184.93,736.81 187.92,746.81 193.92,752.8 199.92,756.8 207.91,759.2" fill="none" stroke="#e8141e" stroke-width="2" stroke-dasharray="12 12.6" stroke-dashoffset="6" stroke-linejoin="round" stroke-opacity="0.95"/>
<polygon points="85.58,759.95 85.58,742.81 87.98,752.8 91.98,756.8 99.98,755.8 111.97,754.8 119.96,750.8 126.96,744.81 129.96,736.81 133.96,722.82 137.95,704.83 141.95,684.84 145.95,660.86 149.95,636.87 153.94,612.89 157.94,586.9 161.94,564.92 164.94,544.93 166.94,524.94 168.33,510.95 170.93,512.95 172.93,508.95 174.93,484.96 176.33,477.37 177.93,484.96 179.93,498.96 181.93,510.95 184.93,520.94 187.92,516.94 189.92,511.95 191.92,514.95 194.92,524.94 197.52,529.94 199.92,522.94 201.91,516.94 204.91,515.95 207.51,510.95 208.91,516.94 210.91,530.94 212.91,544.93 214.91,550.92 217.91,548.93 219.9,556.92 221.9,564.92 223.5,571.91 225.9,560.92 227.9,552.92 230.9,550.92 233.9,540.93 236.89,536.93 238.49,533.93 240.89,540.93 242.89,560.92 245.89,568.91 248.29,574.91 250.89,560.92 252.88,555.92 254.88,564.92 257.88,574.91 259.88,590.9 261.88,604.89 263.88,612.89 267.88,618.88 271.87,624.88 275.87,628.88 278.87,644.87 280.87,664.86 282.87,684.84 285.86,698.84 289.86,710.83 293.86,720.82 297.86,730.82 301.85,740.81 305.85,748.81 311.85,754.8 319.84,759.95 329.84,759.95 397.8,759.95 402.79,755.8 403.79,759.95" fill="#4da0f0" fill-opacity="0.4" stroke="#4da0f0" stroke-width="1.4" stroke-linejoin="round"/>
<polygon points="131.96,759.95 145.95,759.95 155.94,755.8 163.94,750.8 170.93,744.81 175.93,736.81 179.93,726.82 183.93,718.82 187.92,714.83 191.92,702.83 195.92,692.84 199.92,680.85 203.91,666.85 207.91,656.86 211.91,640.87 215.91,626.88 219.9,614.89 223.9,600.89 227.9,590.9 231.9,572.91 235.89,566.91 239.89,554.92 242.89,548.93 247.89,546.93 251.88,534.93 255.88,522.94 259.88,520.94 261.88,504.95 264.28,488.96 266.88,496.96 268.87,504.95 270.87,490.96 272.87,472.97 274.87,478.97 276.87,480.97 278.87,476.97 280.87,471.97 282.87,480.97 284.87,484.96 286.86,476.97 288.46,471.97 289.86,480.97 291.86,488.96 294.86,490.96 297.86,489.96 300.86,496.96 302.85,504.95 304.85,514.95 306.85,526.94 308.85,512.95 310.85,520.94 312.85,536.93 314.85,548.93 316.85,564.92 318.84,574.91 321.84,586.9 323.84,596.9 326.84,604.89 328.84,616.88 331.84,632.88 334.84,644.87 336.83,658.86 339.83,674.85 342.83,686.84 345.83,698.84 349.83,712.83 353.82,720.82 357.82,726.82 361.82,734.81 367.82,742.81 373.81,748.81 379.81,751.8 387.8,753.8 393.8,755.2 397.8,752.8 399.8,746.81 402.19,738.81 403.79,742.81 403.79,759.95" fill="#ff0000" fill-opacity="0.4" stroke="#f20008" stroke-width="1.35" stroke-linejoin="round"/>
</g>
<g stroke="#000" stroke-linecap="butt">
<line x1="85.5" y1="440.9" x2="85.5" y2="760.9" stroke-width="1.1"/>
<line x1="85" y1="441.7" x2="405" y2="441.7" stroke-width="1.6"/>
<line x1="404.1" y1="441.7" x2="404.1" y2="760.9" stroke-width="1.8"/>
<line x1="85.5" y1="760.3" x2="404.1" y2="760.3" stroke-width="1.2"/>
</g>
<line x1="76" y1="758.9" x2="85.5" y2="758.9" stroke="#000" stroke-width="2.1"/>
<text x="69.6" y="759" font-family='"DejaVu Sans Condensed", "DejaVu Sans", "Liberation Sans", sans-serif' font-size="19.5" letter-spacing="-0.5" text-anchor="end" fill="#000">0</text>
<line x1="81" y1="743.77" x2="85.5" y2="743.77" stroke="#000" stroke-width="1.1"/>
<line x1="81" y1="728.65" x2="85.5" y2="728.65" stroke="#000" stroke-width="1.1"/>
<line x1="81" y1="713.52" x2="85.5" y2="713.52" stroke="#000" stroke-width="1.1"/>
<line x1="76" y1="698.4" x2="85.5" y2="698.4" stroke="#000" stroke-width="2.1"/>
<text x="69.6" y="707.4" font-family='"DejaVu Sans Condensed", "DejaVu Sans", "Liberation Sans", sans-serif' font-size="19.5" letter-spacing="-0.5" text-anchor="end" fill="#000">20</text>
<line x1="81" y1="683.27" x2="85.5" y2="683.27" stroke="#000" stroke-width="1.1"/>
<line x1="81" y1="668.15" x2="85.5" y2="668.15" stroke="#000" stroke-width="1.1"/>
<line x1="81" y1="653.02" x2="85.5" y2="653.02" stroke="#000" stroke-width="1.1"/>
<line x1="76" y1="637.9" x2="85.5" y2="637.9" stroke="#000" stroke-width="2.1"/>
<text x="69.6" y="646.9" font-family='"DejaVu Sans Condensed", "DejaVu Sans", "Liberation Sans", sans-serif' font-size="19.5" letter-spacing="-0.5" text-anchor="end" fill="#000">40</text>
<line x1="81" y1="622.77" x2="85.5" y2="622.77" stroke="#000" stroke-width="1.1"/>
<line x1="81" y1="607.65" x2="85.5" y2="607.65" stroke="#000" stroke-width="1.1"/>
<line x1="81" y1="592.52" x2="85.5" y2="592.52" stroke="#000" stroke-width="1.1"/>
<line x1="76" y1="577.4" x2="85.5" y2="577.4" stroke="#000" stroke-width="2.1"/>
<text x="69.6" y="586.4" font-family='"DejaVu Sans Condensed", "DejaVu Sans", "Liberation Sans", sans-serif' font-size="19.5" letter-spacing="-0.5" text-anchor="end" fill="#000">60</text>
<line x1="81" y1="562.27" x2="85.5" y2="562.27" stroke="#000" stroke-width="1.1"/>
<line x1="81" y1="547.15" x2="85.5" y2="547.15" stroke="#000" stroke-width="1.1"/>
<line x1="81" y1="532.02" x2="85.5" y2="532.02" stroke="#000" stroke-width="1.1"/>
<line x1="76" y1="516.9" x2="85.5" y2="516.9" stroke="#000" stroke-width="2.1"/>
<text x="69.6" y="525.9" font-family='"DejaVu Sans Condensed", "DejaVu Sans", "Liberation Sans", sans-serif' font-size="19.5" letter-spacing="-0.5" text-anchor="end" fill="#000">80</text>
<line x1="81" y1="501.77" x2="85.5" y2="501.77" stroke="#000" stroke-width="1.1"/>
<line x1="81" y1="486.65" x2="85.5" y2="486.65" stroke="#000" stroke-width="1.1"/>
<line x1="81" y1="471.52" x2="85.5" y2="471.52" stroke="#000" stroke-width="1.1"/>
<line x1="76" y1="456.4" x2="85.5" y2="456.4" stroke="#000" stroke-width="2.1"/>
<text x="69.6" y="465.4" font-family='"DejaVu Sans Condensed", "DejaVu Sans", "Liberation Sans", sans-serif' font-size="19.5" letter-spacing="-0.5" text-anchor="end" fill="#000">100</text>
<line x1="85.9" y1="759.8" x2="85.9" y2="768.7" stroke="#000" stroke-width="2.1"/>
<line x1="214.2" y1="759.8" x2="214.2" y2="768.7" stroke="#000" stroke-width="2.1"/>
<line x1="346.4" y1="759.8" x2="346.4" y2="768.7" stroke="#000" stroke-width="2.1"/>
<line x1="124.7" y1="760.3" x2="124.7" y2="764.9" stroke="#000" stroke-width="1.1"/>
<line x1="147.3" y1="760.3" x2="147.3" y2="764.9" stroke="#000" stroke-width="1.1"/>
<line x1="163.7" y1="760.3" x2="163.7" y2="764.9" stroke="#000" stroke-width="1.1"/>
<line x1="177.2" y1="760.3" x2="177.2" y2="764.9" stroke="#000" stroke-width="1.1"/>
<line x1="186.9" y1="760.3" x2="186.9" y2="764.9" stroke="#000" stroke-width="1.1"/>
<line x1="194.9" y1="760.3" x2="194.9" y2="764.9" stroke="#000" stroke-width="1.1"/>
<line x1="202.4" y1="760.3" x2="202.4" y2="764.9" stroke="#000" stroke-width="1.1"/>
<line x1="208.7" y1="760.3" x2="208.7" y2="764.9" stroke="#000" stroke-width="1.1"/>
<line x1="254.3" y1="760.3" x2="254.3" y2="764.9" stroke="#000" stroke-width="1.1"/>
<line x1="277.9" y1="760.3" x2="277.9" y2="764.9" stroke="#000" stroke-width="1.1"/>
<line x1="294.1" y1="760.3" x2="294.1" y2="764.9" stroke="#000" stroke-width="1.1"/>
<line x1="306.7" y1="760.3" x2="306.7" y2="764.9" stroke="#000" stroke-width="1.1"/>
<line x1="317.1" y1="760.3" x2="317.1" y2="764.9" stroke="#000" stroke-width="1.1"/>
<line x1="326.1" y1="760.3" x2="326.1" y2="764.9" stroke="#000" stroke-width="1.1"/>
<line x1="333.9" y1="760.3" x2="333.9" y2="764.9" stroke="#000" stroke-width="1.1"/>
<line x1="340.4" y1="760.3" x2="340.4" y2="764.9" stroke="#000" stroke-width="1.1"/>
<line x1="386.5" y1="760.3" x2="386.5" y2="764.9" stroke="#000" stroke-width="1.1"/>
<text x="92.5" y="796.1" font-family='"DejaVu Sans Condensed", "DejaVu Sans", "Liberation Sans", sans-serif' font-size="17" letter-spacing="0.3" fill="#000">10<tspan font-size="18.5" dx="0.2" dy="-12">3</tspan></text>
<text x="210.5" y="796.1" font-family='"DejaVu Sans Condensed", "DejaVu Sans", "Liberation Sans", sans-serif' font-size="17" letter-spacing="0.3" fill="#000">10<tspan font-size="18.5" dx="0.2" dy="-12">4</tspan></text>
<text x="342.8" y="796.1" font-family='"DejaVu Sans Condensed", "DejaVu Sans", "Liberation Sans", sans-serif' font-size="17" letter-spacing="0.3" fill="#000">10<tspan font-size="18.5" dx="0.2" dy="-12">5</tspan></text>
</g>
<text transform="translate(32.8 757.5) rotate(-90)" font-family='"Liberation Sans", Arial, Helvetica, sans-serif' font-size="33.6" fill="#000">Cell count</text>
<line x1="20.1" y1="595.6" x2="20.1" y2="469.8" stroke="#000" stroke-width="4.2"/>
<polygon points="7.8,470.8 32.4,470.8 20.1,446.3" fill="#000"/>
<text x="83.3" y="829" font-family='"Liberation Sans", Arial, Helvetica, sans-serif' font-size="33.5" fill="#000">c-Jun-PE</text>
<line x1="238" y1="817" x2="363" y2="817" stroke="#000" stroke-width="4"/>
<polygon points="362,804.5 362,829.5 386,817" fill="#000"/>
<g>
<clipPath id="clip5"><rect x="571" y="441.7" width="318.3" height="318.6"/></clipPath>
<g clip-path="url(#clip5)">
<polyline points="623.95,482.97 619.96,496.96 615.96,518.94 611.96,540.93 607.96,564.92 603.96,594.9 599.97,628.88 595.97,650.86 591.97,672.85 587.97,692.84 582.98,718.82 578.98,734.81 575.98,730.82 573.98,704.83 572.98,680.85 571.98,656.86" fill="none" stroke="#4da0f0" stroke-width="2" stroke-dasharray="12 12.6" stroke-dashoffset="18.3" stroke-linejoin="round" stroke-opacity="1"/>
<polyline points="623.95,482.97 629.95,490.96 632.95,500.95 634.95,524.94 636.94,548.93 638.94,568.91 641.94,582.91 643.94,600.89 645.94,602.89 647.94,612.89 649.94,636.87 651.94,664.86 654.93,688.84 657.93,706.83 660.93,718.82 663.93,726.82 669.93,742.81 673.92,746.81" fill="none" stroke="#4da0f0" stroke-width="2" stroke-dasharray="12 12.6" stroke-dashoffset="18.3" stroke-linejoin="round" stroke-opacity="1"/>
<polyline points="631.95,464.98 628.95,465.98 625.95,474.97 621.95,492.96 617.96,516.94 613.96,544.93 610.96,570.91 607.96,604.89 603.96,634.87 599.97,660.86 595.97,688.84 591.97,712.83 585.98,724.82 581.98,736.81 575.98,742.81 573.98,742.81 573.98,680.85" fill="none" stroke="#e8141e" stroke-width="2" stroke-dasharray="12 12.6" stroke-dashoffset="6" stroke-linejoin="round" stroke-opacity="0.95"/>
<polyline points="631.95,464.98 634.35,467.97 635.95,482.97 638.94,494.96 641.94,510.95 644.94,520.94 646.94,540.93 648.94,560.92 650.94,584.9 653.93,604.89 655.93,620.88 657.93,640.87 659.93,660.86 661.93,680.85 664.93,700.83 667.93,714.83 670.92,736.81 673.92,746.81 679.92,752.8 685.92,756.8 693.91,759.2" fill="none" stroke="#e8141e" stroke-width="2" stroke-dasharray="12 12.6" stroke-dashoffset="6" stroke-linejoin="round" stroke-opacity="0.95"/>
<polygon points="571.58,759.95 571.58,752.8 574.98,759.95 584.98,759.95 604.96,759.95 612.96,754.8 618.96,746.81 624.95,736.81 628.95,724.82 632.95,708.83 636.94,680.85 640.94,656.86 643.94,636.87 645.94,616.88 647.94,596.9 650.94,576.91 653.93,552.92 655.93,528.94 657.93,506.95 659.93,503.95 662.93,502.95 664.93,490.96 666.93,482.97 669.33,483.96 671.32,496.96 673.32,514.95 675.92,532.94 677.92,548.93 679.92,560.92 682.92,563.92 685.92,568.91 687.91,584.9 689.91,604.89 691.91,620.88 693.91,636.87 695.91,656.86 698.91,674.85 702.91,675.85 704.9,686.84 707.9,698.84 712.9,704.83 716.9,712.83 722.89,720.82 726.89,730.82 732.89,740.81 740.88,746.81 748.88,752.8 756.87,756.8 768.87,759.95 784.86,759.95" fill="#4da0f0" fill-opacity="0.4" stroke="#4da0f0" stroke-width="1.4" stroke-linejoin="round"/>
<polygon points="592.97,759.95 608.96,759.95 620.95,754.8 628.95,748.81 634.95,738.81 640.94,724.82 644.94,710.83 648.94,690.84 652.94,668.85 656.93,652.86 660.93,628.88 664.93,612.89 668.93,594.9 672.92,582.91 676.92,560.92 680.92,542.93 683.92,526.94 685.92,518.94 687.91,520.94 689.91,528.94 691.91,535.93 693.91,524.94 695.91,512.95 697.91,506.95 699.91,512.95 702.91,522.94 704.9,512.95 706.9,494.96 708.5,489.96 710.9,504.95 713.9,500.95 715.9,486.96 717.3,480.97 719.3,488.96 721.29,490.96 723.89,504.95 726.89,514.95 728.89,526.94 730.89,512.95 732.89,504.95 734.49,501.95 736.88,508.95 739.88,518.94 742.88,524.94 744.88,521.94 746.88,536.93 748.88,550.92 752.88,554.92 754.87,568.91 757.87,576.91 760.87,588.9 763.87,604.89 766.87,612.89 770.86,624.88 773.86,636.87 776.86,648.87 779.86,643.87 781.86,650.86 783.86,660.86 786.85,674.85 790.85,690.84 794.85,702.83 798.85,710.83 802.85,718.82 806.84,728.82 810.84,734.81 816.84,742.81 824.83,747.81 832.83,752.8 842.82,755.8 854.81,759.95 872.8,759.95 882.8,759.95 886.79,755.8 888.79,759.95" fill="#ff0000" fill-opacity="0.4" stroke="#f20008" stroke-width="1.35" stroke-linejoin="round"/>
</g>
<g stroke="#000" stroke-linecap="butt">
<line x1="571.5" y1="440.9" x2="571.5" y2="760.9" stroke-width="1.1"/>
<line x1="571" y1="441.7" x2="890.2" y2="441.7" stroke-width="1.6"/>
<line x1="889.3" y1="441.7" x2="889.3" y2="760.9" stroke-width="1.8"/>
<line x1="571.5" y1="760.3" x2="889.3" y2="760.3" stroke-width="1.2"/>
</g>
<line x1="562" y1="758.9" x2="571.5" y2="758.9" stroke="#000" stroke-width="2.1"/>
<text x="555.6" y="759" font-family='"DejaVu Sans Condensed", "DejaVu Sans", "Liberation Sans", sans-serif' font-size="19.5" letter-spacing="-0.5" text-anchor="end" fill="#000">0</text>
<line x1="567" y1="743.77" x2="571.5" y2="743.77" stroke="#000" stroke-width="1.1"/>
<line x1="567" y1="728.65" x2="571.5" y2="728.65" stroke="#000" stroke-width="1.1"/>
<line x1="567" y1="713.52" x2="571.5" y2="713.52" stroke="#000" stroke-width="1.1"/>
<line x1="562" y1="698.4" x2="571.5" y2="698.4" stroke="#000" stroke-width="2.1"/>
<text x="555.6" y="707.4" font-family='"DejaVu Sans Condensed", "DejaVu Sans", "Liberation Sans", sans-serif' font-size="19.5" letter-spacing="-0.5" text-anchor="end" fill="#000">20</text>
<line x1="567" y1="683.27" x2="571.5" y2="683.27" stroke="#000" stroke-width="1.1"/>
<line x1="567" y1="668.15" x2="571.5" y2="668.15" stroke="#000" stroke-width="1.1"/>
<line x1="567" y1="653.02" x2="571.5" y2="653.02" stroke="#000" stroke-width="1.1"/>
<line x1="562" y1="637.9" x2="571.5" y2="637.9" stroke="#000" stroke-width="2.1"/>
<text x="555.6" y="646.9" font-family='"DejaVu Sans Condensed", "DejaVu Sans", "Liberation Sans", sans-serif' font-size="19.5" letter-spacing="-0.5" text-anchor="end" fill="#000">40</text>
<line x1="567" y1="622.77" x2="571.5" y2="622.77" stroke="#000" stroke-width="1.1"/>
<line x1="567" y1="607.65" x2="571.5" y2="607.65" stroke="#000" stroke-width="1.1"/>
<line x1="567" y1="592.52" x2="571.5" y2="592.52" stroke="#000" stroke-width="1.1"/>
<line x1="562" y1="577.4" x2="571.5" y2="577.4" stroke="#000" stroke-width="2.1"/>
<text x="555.6" y="586.4" font-family='"DejaVu Sans Condensed", "DejaVu Sans", "Liberation Sans", sans-serif' font-size="19.5" letter-spacing="-0.5" text-anchor="end" fill="#000">60</text>
<line x1="567" y1="562.27" x2="571.5" y2="562.27" stroke="#000" stroke-width="1.1"/>
<line x1="567" y1="547.15" x2="571.5" y2="547.15" stroke="#000" stroke-width="1.1"/>
<line x1="567" y1="532.02" x2="571.5" y2="532.02" stroke="#000" stroke-width="1.1"/>
<line x1="562" y1="516.9" x2="571.5" y2="516.9" stroke="#000" stroke-width="2.1"/>
<text x="555.6" y="525.9" font-family='"DejaVu Sans Condensed", "DejaVu Sans", "Liberation Sans", sans-serif' font-size="19.5" letter-spacing="-0.5" text-anchor="end" fill="#000">80</text>
<line x1="567" y1="501.77" x2="571.5" y2="501.77" stroke="#000" stroke-width="1.1"/>
<line x1="567" y1="486.65" x2="571.5" y2="486.65" stroke="#000" stroke-width="1.1"/>
<line x1="567" y1="471.52" x2="571.5" y2="471.52" stroke="#000" stroke-width="1.1"/>
<line x1="562" y1="456.4" x2="571.5" y2="456.4" stroke="#000" stroke-width="2.1"/>
<text x="555.6" y="465.4" font-family='"DejaVu Sans Condensed", "DejaVu Sans", "Liberation Sans", sans-serif' font-size="19.5" letter-spacing="-0.5" text-anchor="end" fill="#000">100</text>
<line x1="571.9" y1="759.8" x2="571.9" y2="768.7" stroke="#000" stroke-width="2.1"/>
<line x1="700.2" y1="759.8" x2="700.2" y2="768.7" stroke="#000" stroke-width="2.1"/>
<line x1="832.4" y1="759.8" x2="832.4" y2="768.7" stroke="#000" stroke-width="2.1"/>
<line x1="610.7" y1="760.3" x2="610.7" y2="764.9" stroke="#000" stroke-width="1.1"/>
<line x1="633.3" y1="760.3" x2="633.3" y2="764.9" stroke="#000" stroke-width="1.1"/>
<line x1="649.7" y1="760.3" x2="649.7" y2="764.9" stroke="#000" stroke-width="1.1"/>
<line x1="663.2" y1="760.3" x2="663.2" y2="764.9" stroke="#000" stroke-width="1.1"/>
<line x1="672.9" y1="760.3" x2="672.9" y2="764.9" stroke="#000" stroke-width="1.1"/>
<line x1="680.9" y1="760.3" x2="680.9" y2="764.9" stroke="#000" stroke-width="1.1"/>
<line x1="688.4" y1="760.3" x2="688.4" y2="764.9" stroke="#000" stroke-width="1.1"/>
<line x1="694.7" y1="760.3" x2="694.7" y2="764.9" stroke="#000" stroke-width="1.1"/>
<line x1="740.3" y1="760.3" x2="740.3" y2="764.9" stroke="#000" stroke-width="1.1"/>
<line x1="763.9" y1="760.3" x2="763.9" y2="764.9" stroke="#000" stroke-width="1.1"/>
<line x1="780.1" y1="760.3" x2="780.1" y2="764.9" stroke="#000" stroke-width="1.1"/>
<line x1="792.7" y1="760.3" x2="792.7" y2="764.9" stroke="#000" stroke-width="1.1"/>
<line x1="803.1" y1="760.3" x2="803.1" y2="764.9" stroke="#000" stroke-width="1.1"/>
<line x1="812.1" y1="760.3" x2="812.1" y2="764.9" stroke="#000" stroke-width="1.1"/>
<line x1="819.9" y1="760.3" x2="819.9" y2="764.9" stroke="#000" stroke-width="1.1"/>
<line x1="826.4" y1="760.3" x2="826.4" y2="764.9" stroke="#000" stroke-width="1.1"/>
<line x1="872.5" y1="760.3" x2="872.5" y2="764.9" stroke="#000" stroke-width="1.1"/>
<text x="578.5" y="796.1" font-family='"DejaVu Sans Condensed", "DejaVu Sans", "Liberation Sans", sans-serif' font-size="17" letter-spacing="0.3" fill="#000">10<tspan font-size="18.5" dx="0.2" dy="-12">3</tspan></text>
<text x="696.5" y="796.1" font-family='"DejaVu Sans Condensed", "DejaVu Sans", "Liberation Sans", sans-serif' font-size="17" letter-spacing="0.3" fill="#000">10<tspan font-size="18.5" dx="0.2" dy="-12">4</tspan></text>
<text x="828.8" y="796.1" font-family='"DejaVu Sans Condensed", "DejaVu Sans", "Liberation Sans", sans-serif' font-size="17" letter-spacing="0.3" fill="#000">10<tspan font-size="18.5" dx="0.2" dy="-12">5</tspan></text>
</g>
<text transform="translate(519.5 757.5) rotate(-90)" font-family='"Liberation Sans", Arial, Helvetica, sans-serif' font-size="33.6" fill="#000">Cell count</text>
<line x1="507" y1="595.6" x2="507" y2="469.8" stroke="#000" stroke-width="4.2"/>
<polygon points="494.7,470.8 519.3,470.8 507,446.3" fill="#000"/>
<text x="569.3" y="829" font-family='"Liberation Sans", Arial, Helvetica, sans-serif' font-size="33.5" fill="#000">p-c-Jun-PE</text>
<line x1="752" y1="817" x2="854" y2="817" stroke="#000" stroke-width="4"/>
<polygon points="853,804.5 853,829.5 877,817" fill="#000"/>
<g>
<clipPath id="clip6"><rect x="1059" y="441.7" width="317.3" height="318.6"/></clipPath>
<g clip-path="url(#clip6)">
<polyline points="1059.98,499.96 1061.98,604.89 1063.58,684.84 1065.18,744.81 1067.98,752.8 1079.97,748.81 1089.96,744.81 1099.96,740.81 1107.95,724.82 1113.95,716.82 1123.94,712.83 1133.94,711.83 1138.93,698.84 1143.93,686.84 1149.93,676.85 1155.92,668.85 1159.92,644.87 1167.92,644.87 1169.92,656.86 1173.91,644.87 1177.91,628.88 1181.91,604.89 1185.91,598.9 1189.9,624.88 1191.9,648.87 1195.9,664.86 1199.9,674.85 1205.89,700.83 1213.89,714.83 1219.89,724.82 1225.88,732.82 1231.88,736.81 1237.88,740.81 1241.87,748.81 1249.87,754.8 1259.86,752.8 1269.86,754.8" fill="none" stroke="#4da0f0" stroke-width="2" stroke-dasharray="12 12.6" stroke-dashoffset="18.3" stroke-linejoin="round" stroke-opacity="1"/>
<polyline points="1178.91,508.95 1173.91,510.95 1171.91,520.94 1168.92,544.93 1164.92,560.92 1161.92,580.91 1159.92,604.89 1157.92,634.87 1153.93,660.86 1149.93,676.85 1145.93,704.83 1141.93,716.82 1131.94,728.82 1125.94,736.81 1117.95,748.81 1109.95,752.8 1089.96,758.4" fill="none" stroke="#e8141e" stroke-width="2" stroke-dasharray="12 12.6" stroke-dashoffset="6" stroke-linejoin="round" stroke-opacity="0.95"/>
<polyline points="1178.91,508.95 1182.91,508.95 1185.91,536.93 1188.9,560.92 1191.9,580.91 1193.9,600.89 1195.9,620.88 1197.9,640.87 1199.9,660.86 1201.9,682.85 1205.89,698.84 1209.89,708.83 1215.89,718.82 1221.88,728.82 1227.88,724.82 1233.88,722.82 1237.88,728.82 1243.87,736.81 1249.87,744.81 1257.86,752.8 1265.86,755.8 1277.85,758.4" fill="none" stroke="#e8141e" stroke-width="2" stroke-dasharray="12 12.6" stroke-dashoffset="6" stroke-linejoin="round" stroke-opacity="0.95"/>
<polygon points="1058.98,759.95 1058.98,499.96 1060.98,604.89 1062.98,684.84 1064.98,744.81 1067.98,754.8 1077.97,752.8 1085.97,751.8 1095.96,746.81 1105.95,742.81 1113.95,738.81 1119.95,730.82 1125.94,728.82 1131.94,726.82 1135.94,718.82 1140.93,710.83 1145.93,700.83 1149.93,682.85 1153.93,664.86 1157.92,650.86 1160.92,628.88 1163.92,604.89 1165.92,580.91 1167.92,554.92 1169.92,536.93 1172.31,534.93 1174.31,544.93 1176.91,542.93 1178.91,520.94 1180.91,504.95 1182.91,506.95 1184.91,524.94 1186.91,544.93 1188.9,564.92 1190.9,584.9 1192.9,600.89 1194.9,608.89 1196.9,624.88 1198.9,640.87 1199.9,660.86 1201.9,664.86 1205.89,658.86 1208.89,650.86 1210.89,642.87 1214.89,636.87 1217.89,633.87 1219.89,636.87 1221.88,646.87 1224.88,650.86 1227.88,656.86 1229.88,664.86 1231.88,676.85 1233.88,686.84 1236.88,694.84 1241.87,700.83 1247.87,704.83 1251.87,714.83 1255.86,724.82 1259.86,732.82 1265.86,742.81 1271.85,746.81 1279.85,750.8 1289.84,754.8 1299.84,759.95 1309.83,759.95 1367.8,759.95 1373.79,754.8 1376.19,759.95" fill="#4da0f0" fill-opacity="0.4" stroke="#4da0f0" stroke-width="1.4" stroke-linejoin="round"/>
<polygon points="1058.98,759.95 1058.98,698.84 1061.98,724.82 1064.98,756.8 1069.98,759.95 1089.96,759.95 1105.95,756.8 1115.95,756.8 1123.94,752.8 1131.94,748.81 1141.93,748.41 1147.93,744.81 1153.93,738.81 1159.92,734.81 1163.92,726.82 1169.92,718.82 1175.91,712.83 1179.91,704.83 1185.91,694.84 1188.9,684.84 1190.9,670.85 1192.9,658.86 1194.9,655.86 1197.9,662.86 1199.9,664.86 1203.9,660.86 1205.89,652.86 1207.89,644.87 1209.89,636.87 1211.49,634.87 1213.89,640.87 1216.89,648.87 1219.89,655.86 1221.88,648.87 1223.88,634.87 1225.88,616.88 1229.88,598.9 1232.88,580.91 1236.88,578.91 1238.87,564.92 1240.87,534.93 1242.87,516.94 1244.27,524.94 1246.27,534.93 1248.27,522.94 1249.87,508.95 1251.87,500.95 1254.87,500.55 1257.86,508.95 1259.86,518.94 1261.86,532.94 1263.86,546.93 1266.86,560.92 1270.86,566.91 1273.85,580.91 1277.85,579.91 1279.85,594.9 1282.85,614.89 1285.85,630.88 1288.84,650.86 1291.84,674.85 1294.84,700.83 1297.84,724.82 1301.84,736.81 1305.83,746.81 1309.83,752.8 1315.83,759.95 1321.82,759.95 1376.19,759.95 1376.19,759.95" fill="#ff0000" fill-opacity="0.4" stroke="#f20008" stroke-width="1.35" stroke-linejoin="round"/>
</g>
<g stroke="#000" stroke-linecap="butt">
<line x1="1059.5" y1="440.9" x2="1059.5" y2="760.9" stroke-width="1.1"/>
<line x1="1059" y1="441.7" x2="1377.2" y2="441.7" stroke-width="1.6"/>
<line x1="1376.3" y1="441.7" x2="1376.3" y2="760.9" stroke-width="1.8"/>
<line x1="1059.5" y1="760.3" x2="1376.3" y2="760.3" stroke-width="1.2"/>
</g>
<line x1="1050" y1="758.9" x2="1059.5" y2="758.9" stroke="#000" stroke-width="2.1"/>
<text x="1043.6" y="759" font-family='"DejaVu Sans Condensed", "DejaVu Sans", "Liberation Sans", sans-serif' font-size="19.5" letter-spacing="-0.5" text-anchor="end" fill="#000">0</text>
<line x1="1055" y1="743.77" x2="1059.5" y2="743.77" stroke="#000" stroke-width="1.1"/>
<line x1="1055" y1="728.65" x2="1059.5" y2="728.65" stroke="#000" stroke-width="1.1"/>
<line x1="1055" y1="713.52" x2="1059.5" y2="713.52" stroke="#000" stroke-width="1.1"/>
<line x1="1050" y1="698.4" x2="1059.5" y2="698.4" stroke="#000" stroke-width="2.1"/>
<text x="1043.6" y="707.4" font-family='"DejaVu Sans Condensed", "DejaVu Sans", "Liberation Sans", sans-serif' font-size="19.5" letter-spacing="-0.5" text-anchor="end" fill="#000">20</text>
<line x1="1055" y1="683.27" x2="1059.5" y2="683.27" stroke="#000" stroke-width="1.1"/>
<line x1="1055" y1="668.15" x2="1059.5" y2="668.15" stroke="#000" stroke-width="1.1"/>
<line x1="1055" y1="653.02" x2="1059.5" y2="653.02" stroke="#000" stroke-width="1.1"/>
<line x1="1050" y1="637.9" x2="1059.5" y2="637.9" stroke="#000" stroke-width="2.1"/>
<text x="1043.6" y="646.9" font-family='"DejaVu Sans Condensed", "DejaVu Sans", "Liberation Sans", sans-serif' font-size="19.5" letter-spacing="-0.5" text-anchor="end" fill="#000">40</text>
<line x1="1055" y1="622.77" x2="1059.5" y2="622.77" stroke="#000" stroke-width="1.1"/>
<line x1="1055" y1="607.65" x2="1059.5" y2="607.65" stroke="#000" stroke-width="1.1"/>
<line x1="1055" y1="592.52" x2="1059.5" y2="592.52" stroke="#000" stroke-width="1.1"/>
<line x1="1050" y1="577.4" x2="1059.5" y2="577.4" stroke="#000" stroke-width="2.1"/>
<text x="1043.6" y="586.4" font-family='"DejaVu Sans Condensed", "DejaVu Sans", "Liberation Sans", sans-serif' font-size="19.5" letter-spacing="-0.5" text-anchor="end" fill="#000">60</text>
<line x1="1055" y1="562.27" x2="1059.5" y2="562.27" stroke="#000" stroke-width="1.1"/>
<line x1="1055" y1="547.15" x2="1059.5" y2="547.15" stroke="#000" stroke-width="1.1"/>
<line x1="1055" y1="532.02" x2="1059.5" y2="532.02" stroke="#000" stroke-width="1.1"/>
<line x1="1050" y1="516.9" x2="1059.5" y2="516.9" stroke="#000" stroke-width="2.1"/>
<text x="1043.6" y="525.9" font-family='"DejaVu Sans Condensed", "DejaVu Sans", "Liberation Sans", sans-serif' font-size="19.5" letter-spacing="-0.5" text-anchor="end" fill="#000">80</text>
<line x1="1055" y1="501.77" x2="1059.5" y2="501.77" stroke="#000" stroke-width="1.1"/>
<line x1="1055" y1="486.65" x2="1059.5" y2="486.65" stroke="#000" stroke-width="1.1"/>
<line x1="1055" y1="471.52" x2="1059.5" y2="471.52" stroke="#000" stroke-width="1.1"/>
<line x1="1050" y1="456.4" x2="1059.5" y2="456.4" stroke="#000" stroke-width="2.1"/>
<text x="1043.6" y="465.4" font-family='"DejaVu Sans Condensed", "DejaVu Sans", "Liberation Sans", sans-serif' font-size="19.5" letter-spacing="-0.5" text-anchor="end" fill="#000">100</text>
<line x1="1059.9" y1="759.8" x2="1059.9" y2="768.7" stroke="#000" stroke-width="2.1"/>
<line x1="1151.9" y1="759.8" x2="1151.9" y2="768.7" stroke="#000" stroke-width="2.1"/>
<line x1="1243.4" y1="759.8" x2="1243.4" y2="768.7" stroke="#000" stroke-width="2.1"/>
<line x1="1335.9" y1="759.8" x2="1335.9" y2="768.7" stroke="#000" stroke-width="2.1"/>
<line x1="1086.9" y1="760.3" x2="1086.9" y2="764.9" stroke="#000" stroke-width="1.1"/>
<line x1="1104.4" y1="760.3" x2="1104.4" y2="764.9" stroke="#000" stroke-width="1.1"/>
<line x1="1115.9" y1="760.3" x2="1115.9" y2="764.9" stroke="#000" stroke-width="1.1"/>
<line x1="1124.4" y1="760.3" x2="1124.4" y2="764.9" stroke="#000" stroke-width="1.1"/>
<line x1="1131.9" y1="760.3" x2="1131.9" y2="764.9" stroke="#000" stroke-width="1.1"/>
<line x1="1137.9" y1="760.3" x2="1137.9" y2="764.9" stroke="#000" stroke-width="1.1"/>
<line x1="1142.9" y1="760.3" x2="1142.9" y2="764.9" stroke="#000" stroke-width="1.1"/>
<line x1="1147.4" y1="760.3" x2="1147.4" y2="764.9" stroke="#000" stroke-width="1.1"/>
<line x1="1179.3" y1="760.3" x2="1179.3" y2="764.9" stroke="#000" stroke-width="1.1"/>
<line x1="1195.3" y1="760.3" x2="1195.3" y2="764.9" stroke="#000" stroke-width="1.1"/>
<line x1="1207.9" y1="760.3" x2="1207.9" y2="764.9" stroke="#000" stroke-width="1.1"/>
<line x1="1216.4" y1="760.3" x2="1216.4" y2="764.9" stroke="#000" stroke-width="1.1"/>
<line x1="1223.9" y1="760.3" x2="1223.9" y2="764.9" stroke="#000" stroke-width="1.1"/>
<line x1="1230.4" y1="760.3" x2="1230.4" y2="764.9" stroke="#000" stroke-width="1.1"/>
<line x1="1234.9" y1="760.3" x2="1234.9" y2="764.9" stroke="#000" stroke-width="1.1"/>
<line x1="1239.4" y1="760.3" x2="1239.4" y2="764.9" stroke="#000" stroke-width="1.1"/>
<line x1="1272.4" y1="760.3" x2="1272.4" y2="764.9" stroke="#000" stroke-width="1.1"/>
<line x1="1288.9" y1="760.3" x2="1288.9" y2="764.9" stroke="#000" stroke-width="1.1"/>
<line x1="1299.4" y1="760.3" x2="1299.4" y2="764.9" stroke="#000" stroke-width="1.1"/>
<line x1="1308.4" y1="760.3" x2="1308.4" y2="764.9" stroke="#000" stroke-width="1.1"/>
<line x1="1315.9" y1="760.3" x2="1315.9" y2="764.9" stroke="#000" stroke-width="1.1"/>
<line x1="1321.9" y1="760.3" x2="1321.9" y2="764.9" stroke="#000" stroke-width="1.1"/>
<line x1="1326.9" y1="760.3" x2="1326.9" y2="764.9" stroke="#000" stroke-width="1.1"/>
<line x1="1331.9" y1="760.3" x2="1331.9" y2="764.9" stroke="#000" stroke-width="1.1"/>
<line x1="1364.2" y1="760.3" x2="1364.2" y2="764.9" stroke="#000" stroke-width="1.1"/>
<text x="1065.8" y="796.1" font-family='"DejaVu Sans Condensed", "DejaVu Sans", "Liberation Sans", sans-serif' font-size="17" letter-spacing="0.3" fill="#000">10<tspan font-size="18.5" dx="0.2" dy="-12">2</tspan></text>
<text x="1149.1" y="796.1" font-family='"DejaVu Sans Condensed", "DejaVu Sans", "Liberation Sans", sans-serif' font-size="17" letter-spacing="0.3" fill="#000">10<tspan font-size="18.5" dx="0.2" dy="-12">3</tspan></text>
<text x="1239.5" y="796.1" font-family='"DejaVu Sans Condensed", "DejaVu Sans", "Liberation Sans", sans-serif' font-size="17" letter-spacing="0.3" fill="#000">10<tspan font-size="18.5" dx="0.2" dy="-12">4</tspan></text>
<text x="1332.3" y="796.1" font-family='"DejaVu Sans Condensed", "DejaVu Sans", "Liberation Sans", sans-serif' font-size="17" letter-spacing="0.3" fill="#000">10<tspan font-size="18.5" dx="0.2" dy="-12">5</tspan></text>
</g>
<text transform="translate(1005.6 757.5) rotate(-90)" font-family='"Liberation Sans", Arial, Helvetica, sans-serif' font-size="33.6" fill="#000" stroke="#000" stroke-width="0.6">Cell count</text>
<line x1="993.6" y1="595.6" x2="993.6" y2="469.8" stroke="#000" stroke-width="4.2"/>
<polygon points="981.3,470.8 1005.9,470.8 993.6,446.3" fill="#000"/>
<text x="1057.3" y="829" font-family='"Liberation Sans", Arial, Helvetica, sans-serif' font-size="33.5" fill="#000">c-Fos-PE</text>
<line x1="1210" y1="817" x2="1345" y2="817" stroke="#000" stroke-width="4"/>
<polygon points="1344,804.5 1344,829.5 1368,817" fill="#000"/>
<g>
<clipPath id="clip7"><rect x="1547" y="441.7" width="317.5" height="318.6"/></clipPath>
<g clip-path="url(#clip7)">
<polyline points="1547.97,498.96 1549.97,624.88 1551.56,704.83 1552.96,752.8 1558.96,754.8 1566.96,748.81 1576.95,742.81 1586.94,738.81 1594.94,724.82 1600.94,716.82 1612.93,712.83 1620.92,711.83 1624.92,698.84 1630.92,690.84 1636.91,676.85 1642.91,668.85 1646.91,652.86 1650.91,644.87 1654.9,644.87 1658.9,656.86 1663.9,644.87 1666.9,624.88 1669.89,608.89 1674.89,598.9 1678.89,624.88 1681.89,654.86 1684.88,670.85 1688.88,682.85 1692.88,700.83 1700.88,708.83 1708.87,720.82 1712.87,732.82 1718.86,738.81 1724.86,742.81 1732.86,752.8 1742.85,754.8 1752.84,752.8 1762.84,754.8" fill="none" stroke="#4da0f0" stroke-width="2" stroke-dasharray="12 12.6" stroke-dashoffset="18.3" stroke-linejoin="round" stroke-opacity="1"/>
<polyline points="1666.9,506.95 1662.9,512.95 1658.9,536.93 1652.9,564.92 1648.91,600.89 1644.91,644.87 1640.91,664.86 1636.91,684.84 1632.92,700.83 1628.92,716.82 1622.92,724.82 1616.93,730.82 1608.93,746.81 1596.94,752.8 1572.95,758.4" fill="none" stroke="#e8141e" stroke-width="2" stroke-dasharray="12 12.6" stroke-dashoffset="6" stroke-linejoin="round" stroke-opacity="0.95"/>
<polyline points="1666.9,506.95 1670.89,506.95 1672.89,518.94 1674.89,536.93 1676.89,554.92 1679.89,572.91 1681.89,592.9 1683.89,616.88 1685.88,636.87 1687.88,656.86 1689.88,676.85 1692.88,690.84 1696.88,704.83 1702.87,712.83 1708.87,724.82 1712.87,726.82 1718.86,718.82 1722.86,720.82 1726.86,730.82 1732.86,740.81 1740.85,748.81 1748.85,753.8 1762.84,757.8" fill="none" stroke="#e8141e" stroke-width="2" stroke-dasharray="12 12.6" stroke-dashoffset="6" stroke-linejoin="round" stroke-opacity="0.95"/>
<polygon points="1546.97,759.95 1546.97,498.96 1548.97,624.88 1550.97,724.82 1552.96,759.95 1572.95,756.8 1580.95,752.8 1586.94,748.81 1594.94,748.81 1600.94,742.81 1606.93,740.81 1612.93,738.81 1616.93,726.82 1620.92,704.83 1623.92,692.84 1626.92,689.84 1629.92,690.84 1632.92,676.85 1635.91,660.86 1638.91,644.87 1641.91,630.88 1644.91,624.88 1647.91,614.89 1650.91,594.9 1653.9,570.91 1656.9,550.92 1659.9,532.94 1661.9,514.95 1664.5,507.95 1666.5,514.95 1668.89,532.94 1672.89,536.93 1675.89,544.93 1678.89,550.92 1681.89,564.92 1683.89,584.9 1685.88,604.89 1687.88,624.88 1689.88,640.87 1692.88,654.86 1696.88,668.85 1700.88,684.84 1704.87,700.83 1707.87,708.83 1712.87,709.23 1718.86,714.83 1722.86,724.82 1726.86,736.81 1730.86,748.81 1734.85,754.8 1740.85,759.95 1752.84,759.95 1856.78,759.95 1862.78,755.8 1864.78,759.95" fill="#4da0f0" fill-opacity="0.4" stroke="#4da0f0" stroke-width="1.4" stroke-linejoin="round"/>
<polygon points="1546.97,759.95 1546.97,712.83 1548.97,744.81 1551.96,759.95 1572.95,759.95 1592.94,759.95 1604.93,756.8 1616.93,753.8 1624.92,750.8 1632.92,744.81 1640.91,736.81 1648.91,728.82 1652.9,720.82 1655.9,704.83 1658.9,701.83 1662.9,694.84 1666.9,684.84 1669.89,664.86 1673.89,660.86 1675.89,644.87 1677.89,628.88 1680.89,612.89 1683.89,598.9 1686.88,576.91 1689.88,556.92 1692.88,536.93 1694.88,514.95 1696.88,498.96 1698.88,496.96 1700.88,512.95 1702.47,522.94 1703.87,504.95 1705.27,482.97 1706.87,488.96 1708.47,494.96 1710.47,488.96 1712.47,490.96 1713.87,502.95 1715.27,520.94 1716.87,536.93 1719.86,542.93 1721.86,560.92 1723.86,580.91 1725.86,600.89 1727.86,616.88 1729.86,632.88 1731.86,644.87 1733.86,660.86 1735.85,672.85 1738.85,686.84 1741.85,700.83 1744.85,712.83 1748.85,718.82 1752.84,722.82 1758.84,724.82 1761.84,730.82 1764.84,738.81 1768.83,741.81 1774.83,743.81 1780.83,748.81 1788.82,751.8 1796.82,753.8 1804.81,755.8 1812.81,759.95 1832.8,759.95 1864.78,759.95" fill="#ff0000" fill-opacity="0.4" stroke="#f20008" stroke-width="1.35" stroke-linejoin="round"/>
</g>
<g stroke="#000" stroke-linecap="butt">
<line x1="1547.5" y1="440.9" x2="1547.5" y2="760.9" stroke-width="1.1"/>
<line x1="1547" y1="441.7" x2="1865.4" y2="441.7" stroke-width="1.6"/>
<line x1="1864.5" y1="441.7" x2="1864.5" y2="760.9" stroke-width="1.3"/>
<line x1="1547.5" y1="760.3" x2="1864.5" y2="760.3" stroke-width="1.2"/>
</g>
<line x1="1538" y1="758.9" x2="1547.5" y2="758.9" stroke="#000" stroke-width="2.1"/>
<text x="1531.6" y="759" font-family='"DejaVu Sans Condensed", "DejaVu Sans", "Liberation Sans", sans-serif' font-size="19.5" letter-spacing="-0.5" text-anchor="end" fill="#000">0</text>
<line x1="1543" y1="743.77" x2="1547.5" y2="743.77" stroke="#000" stroke-width="1.1"/>
<line x1="1543" y1="728.65" x2="1547.5" y2="728.65" stroke="#000" stroke-width="1.1"/>
<line x1="1543" y1="713.52" x2="1547.5" y2="713.52" stroke="#000" stroke-width="1.1"/>
<line x1="1538" y1="698.4" x2="1547.5" y2="698.4" stroke="#000" stroke-width="2.1"/>
<text x="1531.6" y="707.4" font-family='"DejaVu Sans Condensed", "DejaVu Sans", "Liberation Sans", sans-serif' font-size="19.5" letter-spacing="-0.5" text-anchor="end" fill="#000">20</text>
<line x1="1543" y1="683.27" x2="1547.5" y2="683.27" stroke="#000" stroke-width="1.1"/>
<line x1="1543" y1="668.15" x2="1547.5" y2="668.15" stroke="#000" stroke-width="1.1"/>
<line x1="1543" y1="653.02" x2="1547.5" y2="653.02" stroke="#000" stroke-width="1.1"/>
<line x1="1538" y1="637.9" x2="1547.5" y2="637.9" stroke="#000" stroke-width="2.1"/>
<text x="1531.6" y="646.9" font-family='"DejaVu Sans Condensed", "DejaVu Sans", "Liberation Sans", sans-serif' font-size="19.5" letter-spacing="-0.5" text-anchor="end" fill="#000">40</text>
<line x1="1543" y1="622.77" x2="1547.5" y2="622.77" stroke="#000" stroke-width="1.1"/>
<line x1="1543" y1="607.65" x2="1547.5" y2="607.65" stroke="#000" stroke-width="1.1"/>
<line x1="1543" y1="592.52" x2="1547.5" y2="592.52" stroke="#000" stroke-width="1.1"/>
<line x1="1538" y1="577.4" x2="1547.5" y2="577.4" stroke="#000" stroke-width="2.1"/>
<text x="1531.6" y="586.4" font-family='"DejaVu Sans Condensed", "DejaVu Sans", "Liberation Sans", sans-serif' font-size="19.5" letter-spacing="-0.5" text-anchor="end" fill="#000">60</text>
<line x1="1543" y1="562.27" x2="1547.5" y2="562.27" stroke="#000" stroke-width="1.1"/>
<line x1="1543" y1="547.15" x2="1547.5" y2="547.15" stroke="#000" stroke-width="1.1"/>
<line x1="1543" y1="532.02" x2="1547.5" y2="532.02" stroke="#000" stroke-width="1.1"/>
<line x1="1538" y1="516.9" x2="1547.5" y2="516.9" stroke="#000" stroke-width="2.1"/>
<text x="1531.6" y="525.9" font-family='"DejaVu Sans Condensed", "DejaVu Sans", "Liberation Sans", sans-serif' font-size="19.5" letter-spacing="-0.5" text-anchor="end" fill="#000">80</text>
<line x1="1543" y1="501.77" x2="1547.5" y2="501.77" stroke="#000" stroke-width="1.1"/>
<line x1="1543" y1="486.65" x2="1547.5" y2="486.65" stroke="#000" stroke-width="1.1"/>
<line x1="1543" y1="471.52" x2="1547.5" y2="471.52" stroke="#000" stroke-width="1.1"/>
<line x1="1538" y1="456.4" x2="1547.5" y2="456.4" stroke="#000" stroke-width="2.1"/>
<text x="1531.6" y="465.4" font-family='"DejaVu Sans Condensed", "DejaVu Sans", "Liberation Sans", sans-serif' font-size="19.5" letter-spacing="-0.5" text-anchor="end" fill="#000">100</text>
<line x1="1547.9" y1="759.8" x2="1547.9" y2="768.7" stroke="#000" stroke-width="2.1"/>
<line x1="1639.9" y1="759.8" x2="1639.9" y2="768.7" stroke="#000" stroke-width="2.1"/>
<line x1="1731.4" y1="759.8" x2="1731.4" y2="768.7" stroke="#000" stroke-width="2.1"/>
<line x1="1823.9" y1="759.8" x2="1823.9" y2="768.7" stroke="#000" stroke-width="2.1"/>
<line x1="1574.9" y1="760.3" x2="1574.9" y2="764.9" stroke="#000" stroke-width="1.1"/>
<line x1="1592.4" y1="760.3" x2="1592.4" y2="764.9" stroke="#000" stroke-width="1.1"/>
<line x1="1603.9" y1="760.3" x2="1603.9" y2="764.9" stroke="#000" stroke-width="1.1"/>
<line x1="1612.4" y1="760.3" x2="1612.4" y2="764.9" stroke="#000" stroke-width="1.1"/>
<line x1="1619.9" y1="760.3" x2="1619.9" y2="764.9" stroke="#000" stroke-width="1.1"/>
<line x1="1625.9" y1="760.3" x2="1625.9" y2="764.9" stroke="#000" stroke-width="1.1"/>
<line x1="1630.9" y1="760.3" x2="1630.9" y2="764.9" stroke="#000" stroke-width="1.1"/>
<line x1="1635.4" y1="760.3" x2="1635.4" y2="764.9" stroke="#000" stroke-width="1.1"/>
<line x1="1667.3" y1="760.3" x2="1667.3" y2="764.9" stroke="#000" stroke-width="1.1"/>
<line x1="1683.3" y1="760.3" x2="1683.3" y2="764.9" stroke="#000" stroke-width="1.1"/>
<line x1="1695.9" y1="760.3" x2="1695.9" y2="764.9" stroke="#000" stroke-width="1.1"/>
<line x1="1704.4" y1="760.3" x2="1704.4" y2="764.9" stroke="#000" stroke-width="1.1"/>
<line x1="1711.9" y1="760.3" x2="1711.9" y2="764.9" stroke="#000" stroke-width="1.1"/>
<line x1="1718.4" y1="760.3" x2="1718.4" y2="764.9" stroke="#000" stroke-width="1.1"/>
<line x1="1722.9" y1="760.3" x2="1722.9" y2="764.9" stroke="#000" stroke-width="1.1"/>
<line x1="1727.4" y1="760.3" x2="1727.4" y2="764.9" stroke="#000" stroke-width="1.1"/>
<line x1="1760.4" y1="760.3" x2="1760.4" y2="764.9" stroke="#000" stroke-width="1.1"/>
<line x1="1776.9" y1="760.3" x2="1776.9" y2="764.9" stroke="#000" stroke-width="1.1"/>
<line x1="1787.4" y1="760.3" x2="1787.4" y2="764.9" stroke="#000" stroke-width="1.1"/>
<line x1="1796.4" y1="760.3" x2="1796.4" y2="764.9" stroke="#000" stroke-width="1.1"/>
<line x1="1803.9" y1="760.3" x2="1803.9" y2="764.9" stroke="#000" stroke-width="1.1"/>
<line x1="1809.9" y1="760.3" x2="1809.9" y2="764.9" stroke="#000" stroke-width="1.1"/>
<line x1="1814.9" y1="760.3" x2="1814.9" y2="764.9" stroke="#000" stroke-width="1.1"/>
<line x1="1819.9" y1="760.3" x2="1819.9" y2="764.9" stroke="#000" stroke-width="1.1"/>
<line x1="1852.2" y1="760.3" x2="1852.2" y2="764.9" stroke="#000" stroke-width="1.1"/>
<text x="1553.8" y="796.1" font-family='"DejaVu Sans Condensed", "DejaVu Sans", "Liberation Sans", sans-serif' font-size="17" letter-spacing="0.3" fill="#000">10<tspan font-size="18.5" dx="0.2" dy="-12">2</tspan></text>
<text x="1637.1" y="796.1" font-family='"DejaVu Sans Condensed", "DejaVu Sans", "Liberation Sans", sans-serif' font-size="17" letter-spacing="0.3" fill="#000">10<tspan font-size="18.5" dx="0.2" dy="-12">3</tspan></text>
<text x="1727.5" y="796.1" font-family='"DejaVu Sans Condensed", "DejaVu Sans", "Liberation Sans", sans-serif' font-size="17" letter-spacing="0.3" fill="#000">10<tspan font-size="18.5" dx="0.2" dy="-12">4</tspan></text>
<text x="1820.3" y="796.1" font-family='"DejaVu Sans Condensed", "DejaVu Sans", "Liberation Sans", sans-serif' font-size="17" letter-spacing="0.3" fill="#000">10<tspan font-size="18.5" dx="0.2" dy="-12">5</tspan></text>
</g>
<text transform="translate(1495.2 757.5) rotate(-90)" font-family='"Liberation Sans", Arial, Helvetica, sans-serif' font-size="33.6" fill="#000" stroke="#000" stroke-width="0.6">Cell count</text>
<line x1="1483.6" y1="595.6" x2="1483.6" y2="469.8" stroke="#000" stroke-width="4.2"/>
<polygon points="1471.3,470.8 1495.9,470.8 1483.6,446.3" fill="#000"/>
<text x="1545.3" y="829" font-family='"Liberation Sans", Arial, Helvetica, sans-serif' font-size="33.5" fill="#000">p-c-Fos-PE</text>
<line x1="1727" y1="817" x2="1832" y2="817" stroke="#000" stroke-width="4"/>
<polygon points="1831,804.5 1831,829.5 1855,817" fill="#000"/>
<g stroke="#000" stroke-width="3.0" stroke-linecap="round" fill="none">
<rect x="129.7" y="1253.1" width="46.8" height="79.7" fill="#fff" stroke-linejoin="miter"/>
<rect x="204.7" y="1121.8" width="47.2" height="211" fill="#808080" stroke-linejoin="miter"/>
<line x1="103.6" y1="1032.4" x2="103.6" y2="1333.8"/>
<line x1="90.6" y1="1332.8" x2="280.1" y2="1332.8"/>
<line x1="90.6" y1="1332.8" x2="103.6" y2="1332.8"/>
<line x1="90.6" y1="1257.7" x2="103.6" y2="1257.7"/>
<line x1="90.6" y1="1182.6" x2="103.6" y2="1182.6"/>
<line x1="90.6" y1="1107.5" x2="103.6" y2="1107.5"/>
<line x1="90.6" y1="1032.4" x2="103.6" y2="1032.4"/>
<line x1="153.1" y1="1242.2" x2="153.1" y2="1261.4"/>
<line x1="140.6" y1="1242.2" x2="165.6" y2="1242.2"/>
<line x1="140.6" y1="1261.4" x2="165.6" y2="1261.4"/>
<line x1="228.3" y1="1095.6" x2="228.3" y2="1146.8"/>
<line x1="215.8" y1="1095.6" x2="240.8" y2="1095.6"/>
<line x1="215.8" y1="1146.8" x2="240.8" y2="1146.8"/>
<polyline points="151.4,1057.2 151.4,1044.8 227.1,1044.8 227.1,1057.2" stroke-linejoin="miter"/>
</g>
<rect x="128.6" y="1259.1" width="15" height="15" fill="#000"/>
<rect x="146.1" y="1227.2" width="15" height="15" fill="#000"/>
<rect x="163.6" y="1245.4" width="15" height="15" fill="#000"/>
<circle cx="228.5" cy="1074.3" r="7.8" fill="#000"/>
<circle cx="228.5" cy="1125.5" r="7.8" fill="#000"/>
<circle cx="228.5" cy="1161.5" r="7.8" fill="#000"/>
<text x="187.95" y="1044.7" font-family='"Liberation Sans", Arial, Helvetica, sans-serif' font-size="28" letter-spacing="1.3" stroke="#000" stroke-width="0.8" stroke-linejoin="round" text-anchor="middle" fill="#000">**</text>
<text x="87.1" y="1344.3" font-family='"Liberation Sans", Arial, Helvetica, sans-serif' font-size="33.8" text-anchor="end" fill="#000">0</text>
<text x="87.1" y="1269.2" font-family='"Liberation Sans", Arial, Helvetica, sans-serif' font-size="33.8" text-anchor="end" fill="#000">5</text>
<text x="87.1" y="1194.1" font-family='"Liberation Sans", Arial, Helvetica, sans-serif' font-size="33.8" text-anchor="end" fill="#000">10</text>
<text x="87.1" y="1119" font-family='"Liberation Sans", Arial, Helvetica, sans-serif' font-size="33.8" text-anchor="end" fill="#000">15</text>
<text x="87.1" y="1043.9" font-family='"Liberation Sans", Arial, Helvetica, sans-serif' font-size="33.8" text-anchor="end" fill="#000">20</text>
<text transform="translate(39 1198) rotate(-90)" font-family='"Liberation Sans", Arial, Helvetica, sans-serif' font-size="33.2" text-anchor="middle" fill="#000">Intracellular IL-2 MFI (x 10<tspan font-size="25" dy="-14">3</tspan><tspan dy="14">)</tspan></text>
<text transform="translate(164.5 1361.4) rotate(-45)" font-family='"Liberation Sans", Arial, Helvetica, sans-serif' font-size="33" text-anchor="end" fill="#000" stroke="#000" stroke-width="0.3">Beads<tspan font-size="25" dx="2.2" dy="-18">3/28</tspan></text>
<text transform="translate(238.4 1362.7) rotate(-45)" font-family='"Liberation Sans", Arial, Helvetica, sans-serif' font-size="33" text-anchor="end" fill="#000" stroke="#000" stroke-width="0.3">GO-APP<tspan font-size="25" dx="0.4" dy="-18">3/28</tspan></text>
<g stroke="#000" stroke-width="3.0" stroke-linecap="round" fill="none">
<rect x="442.6" y="1313.3" width="46.8" height="19.5" fill="#fff" stroke-linejoin="miter"/>
<rect x="517.6" y="1071" width="47.2" height="261.8" fill="#808080" stroke-linejoin="miter"/>
<line x1="416.5" y1="1033" x2="416.5" y2="1333.8"/>
<line x1="403.5" y1="1332.8" x2="593" y2="1332.8"/>
<line x1="403.5" y1="1332.8" x2="416.5" y2="1332.8"/>
<line x1="403.5" y1="1257.85" x2="416.5" y2="1257.85"/>
<line x1="403.5" y1="1182.9" x2="416.5" y2="1182.9"/>
<line x1="403.5" y1="1107.95" x2="416.5" y2="1107.95"/>
<line x1="403.5" y1="1033" x2="416.5" y2="1033"/>
<line x1="466" y1="1302.7" x2="466" y2="1321.1"/>
<line x1="453.5" y1="1302.7" x2="478.5" y2="1302.7"/>
<line x1="453.5" y1="1321.1" x2="478.5" y2="1321.1"/>
<line x1="541.2" y1="1057.7" x2="541.2" y2="1082.2"/>
<line x1="528.7" y1="1057.7" x2="553.7" y2="1057.7"/>
<line x1="528.7" y1="1082.2" x2="553.7" y2="1082.2"/>
<polyline points="465.8,1031 465.8,1018.4 541.3,1018.4 541.3,1031" stroke-linejoin="miter"/>
</g>
<rect x="440.8" y="1315.3" width="15" height="15" fill="#000"/>
<rect x="458.4" y="1285.3" width="15" height="15" fill="#000"/>
<rect x="475.4" y="1309.3" width="15" height="15" fill="#000"/>
<circle cx="523.5" cy="1087.5" r="7.8" fill="#000"/>
<circle cx="540.9" cy="1045" r="7.8" fill="#000"/>
<circle cx="558.2" cy="1074.3" r="7.8" fill="#000"/>
<text x="504.55" y="1021.4" font-family='"Liberation Sans", Arial, Helvetica, sans-serif' font-size="28" letter-spacing="1.3" stroke="#000" stroke-width="0.8" stroke-linejoin="round" text-anchor="middle" fill="#000">****</text>
<text x="400" y="1344.3" font-family='"Liberation Sans", Arial, Helvetica, sans-serif' font-size="33.8" text-anchor="end" fill="#000">0</text>
<text x="400" y="1269.35" font-family='"Liberation Sans", Arial, Helvetica, sans-serif' font-size="33.8" text-anchor="end" fill="#000">5</text>
<text x="400" y="1194.4" font-family='"Liberation Sans", Arial, Helvetica, sans-serif' font-size="33.8" text-anchor="end" fill="#000">10</text>
<text x="400" y="1119.45" font-family='"Liberation Sans", Arial, Helvetica, sans-serif' font-size="33.8" text-anchor="end" fill="#000">15</text>
<text x="400" y="1044.5" font-family='"Liberation Sans", Arial, Helvetica, sans-serif' font-size="33.8" text-anchor="end" fill="#000">20</text>
<text transform="translate(352 1176) rotate(-90)" font-family='"Liberation Sans", Arial, Helvetica, sans-serif' font-size="34" text-anchor="middle" fill="#000">CD25 MFI (x 10<tspan font-size="25" dy="-14">3</tspan><tspan dy="14">)</tspan></text>
<text transform="translate(477.4 1361.4) rotate(-45)" font-family='"Liberation Sans", Arial, Helvetica, sans-serif' font-size="33" text-anchor="end" fill="#000" stroke="#000" stroke-width="0.3">Beads<tspan font-size="25" dx="2.2" dy="-18">3/28</tspan></text>
<text transform="translate(551.3 1362.7) rotate(-45)" font-family='"Liberation Sans", Arial, Helvetica, sans-serif' font-size="33" text-anchor="end" fill="#000" stroke="#000" stroke-width="0.3">GO-APP<tspan font-size="25" dx="0.4" dy="-18">3/28</tspan></text>
<g stroke="#000" stroke-width="3.0" stroke-linecap="round" fill="none">
<rect x="754.6" y="1240.7" width="46.8" height="86.5" fill="#fff" stroke-linejoin="miter"/>
<rect x="829.6" y="1091.4" width="47.2" height="235.8" fill="#808080" stroke-linejoin="miter"/>
<line x1="728.5" y1="1026.9" x2="728.5" y2="1328.2"/>
<line x1="715.5" y1="1327.2" x2="905" y2="1327.2"/>
<line x1="715.5" y1="1327.2" x2="728.5" y2="1327.2"/>
<line x1="715.5" y1="1267.14" x2="728.5" y2="1267.14"/>
<line x1="715.5" y1="1207.08" x2="728.5" y2="1207.08"/>
<line x1="715.5" y1="1147.02" x2="728.5" y2="1147.02"/>
<line x1="715.5" y1="1086.96" x2="728.5" y2="1086.96"/>
<line x1="715.5" y1="1026.9" x2="728.5" y2="1026.9"/>
<line x1="778" y1="1231.2" x2="778" y2="1247.1"/>
<line x1="765.5" y1="1231.2" x2="790.5" y2="1231.2"/>
<line x1="765.5" y1="1247.1" x2="790.5" y2="1247.1"/>
<line x1="853.2" y1="1067.3" x2="853.2" y2="1113.2"/>
<line x1="840.7" y1="1067.3" x2="865.7" y2="1067.3"/>
<line x1="840.7" y1="1113.2" x2="865.7" y2="1113.2"/>
<polyline points="777.8,1028.4 777.8,1016.4 853.3,1016.4 853.3,1028.4" stroke-linejoin="miter"/>
</g>
<rect x="752.4" y="1241.9" width="15" height="15" fill="#000"/>
<rect x="770.4" y="1215.4" width="15" height="15" fill="#000"/>
<rect x="787.4" y="1233.9" width="15" height="15" fill="#000"/>
<circle cx="852.9" cy="1044" r="7.8" fill="#000"/>
<circle cx="852.9" cy="1102.5" r="7.8" fill="#000"/>
<circle cx="852.9" cy="1120.9" r="7.8" fill="#000"/>
<text x="815.95" y="1021.4" font-family='"Liberation Sans", Arial, Helvetica, sans-serif' font-size="28" letter-spacing="1.3" stroke="#000" stroke-width="0.8" stroke-linejoin="round" text-anchor="middle" fill="#000">***</text>
<text x="712" y="1338.7" font-family='"Liberation Sans", Arial, Helvetica, sans-serif' font-size="33.8" text-anchor="end" fill="#000">0</text>
<text x="712" y="1278.64" font-family='"Liberation Sans", Arial, Helvetica, sans-serif' font-size="33.8" text-anchor="end" fill="#000">2</text>
<text x="712" y="1218.58" font-family='"Liberation Sans", Arial, Helvetica, sans-serif' font-size="33.8" text-anchor="end" fill="#000">4</text>
<text x="712" y="1158.52" font-family='"Liberation Sans", Arial, Helvetica, sans-serif' font-size="33.8" text-anchor="end" fill="#000">6</text>
<text x="712" y="1098.46" font-family='"Liberation Sans", Arial, Helvetica, sans-serif' font-size="33.8" text-anchor="end" fill="#000">8</text>
<text x="712" y="1038.4" font-family='"Liberation Sans", Arial, Helvetica, sans-serif' font-size="33.8" text-anchor="end" fill="#000">10</text>
<text transform="translate(664 1170.5) rotate(-90)" font-family='"Liberation Sans", Arial, Helvetica, sans-serif' font-size="34" text-anchor="middle" fill="#000">Jak3 MFI (x 10<tspan font-size="25" dy="-14">3</tspan><tspan dy="14">)</tspan></text>
<text transform="translate(789.4 1355.8) rotate(-45)" font-family='"Liberation Sans", Arial, Helvetica, sans-serif' font-size="33" text-anchor="end" fill="#000" stroke="#000" stroke-width="0.3">Beads<tspan font-size="25" dx="2.2" dy="-18">3/28</tspan></text>
<text transform="translate(863.3 1357.1) rotate(-45)" font-family='"Liberation Sans", Arial, Helvetica, sans-serif' font-size="33" text-anchor="end" fill="#000" stroke="#000" stroke-width="0.3">GO-APP<tspan font-size="25" dx="0.4" dy="-18">3/28</tspan></text>
<g stroke="#000" stroke-width="3.0" stroke-linecap="round" fill="none">
<rect x="1066" y="1283.3" width="46.8" height="42.5" fill="#fff" stroke-linejoin="miter"/>
<rect x="1141" y="1080.8" width="47.2" height="245" fill="#808080" stroke-linejoin="miter"/>
<line x1="1039.9" y1="1026.4" x2="1039.9" y2="1326.8"/>
<line x1="1026.9" y1="1325.8" x2="1216.4" y2="1325.8"/>
<line x1="1026.9" y1="1325.8" x2="1039.9" y2="1325.8"/>
<line x1="1026.9" y1="1250.95" x2="1039.9" y2="1250.95"/>
<line x1="1026.9" y1="1176.1" x2="1039.9" y2="1176.1"/>
<line x1="1026.9" y1="1101.25" x2="1039.9" y2="1101.25"/>
<line x1="1026.9" y1="1026.4" x2="1039.9" y2="1026.4"/>
<line x1="1089.4" y1="1271.1" x2="1089.4" y2="1292.5"/>
<line x1="1076.9" y1="1271.1" x2="1101.9" y2="1271.1"/>
<line x1="1076.9" y1="1292.5" x2="1101.9" y2="1292.5"/>
<line x1="1164.6" y1="1069.3" x2="1164.6" y2="1089.2"/>
<line x1="1152.1" y1="1069.3" x2="1177.1" y2="1069.3"/>
<line x1="1152.1" y1="1089.2" x2="1177.1" y2="1089.2"/>
<polyline points="1088.6,1046.4 1088.6,1034 1164.7,1034 1164.7,1046.4" stroke-linejoin="miter"/>
</g>
<rect x="1064.4" y="1261.7" width="15" height="15" fill="#000"/>
<rect x="1099.4" y="1263.7" width="15" height="15" fill="#000"/>
<rect x="1081.8" y="1293.7" width="15" height="15" fill="#000"/>
<circle cx="1164.3" cy="1062" r="7.8" fill="#000"/>
<circle cx="1164.3" cy="1077.9" r="7.8" fill="#000"/>
<circle cx="1164.3" cy="1095.9" r="7.8" fill="#000"/>
<text x="1127.15" y="1039.4" font-family='"Liberation Sans", Arial, Helvetica, sans-serif' font-size="28" letter-spacing="1.3" stroke="#000" stroke-width="0.8" stroke-linejoin="round" text-anchor="middle" fill="#000">***</text>
<text x="1023.4" y="1337.3" font-family='"Liberation Sans", Arial, Helvetica, sans-serif' font-size="33.8" text-anchor="end" fill="#000">0</text>
<text x="1023.4" y="1262.45" font-family='"Liberation Sans", Arial, Helvetica, sans-serif' font-size="33.8" text-anchor="end" fill="#000">20</text>
<text x="1023.4" y="1187.6" font-family='"Liberation Sans", Arial, Helvetica, sans-serif' font-size="33.8" text-anchor="end" fill="#000">40</text>
<text x="1023.4" y="1112.75" font-family='"Liberation Sans", Arial, Helvetica, sans-serif' font-size="33.8" text-anchor="end" fill="#000">60</text>
<text x="1023.4" y="1037.9" font-family='"Liberation Sans", Arial, Helvetica, sans-serif' font-size="33.8" text-anchor="end" fill="#000">80</text>
<text transform="translate(976 1167.5) rotate(-90)" font-family='"Liberation Sans", Arial, Helvetica, sans-serif' font-size="34" text-anchor="middle" fill="#000">STAT3 MFI (x 10<tspan font-size="25" dy="-14">3</tspan><tspan dy="14">)</tspan></text>
<text transform="translate(1100.8 1354.4) rotate(-45)" font-family='"Liberation Sans", Arial, Helvetica, sans-serif' font-size="33" text-anchor="end" fill="#000" stroke="#000" stroke-width="0.3">Beads<tspan font-size="25" dx="2.2" dy="-18">3/28</tspan></text>
<text transform="translate(1174.7 1355.7) rotate(-45)" font-family='"Liberation Sans", Arial, Helvetica, sans-serif' font-size="33" text-anchor="end" fill="#000" stroke="#000" stroke-width="0.3">GO-APP<tspan font-size="25" dx="0.4" dy="-18">3/28</tspan></text>
<g stroke="#000" stroke-width="3.0" stroke-linecap="round" fill="none">
<rect x="1378.6" y="1240.7" width="46.8" height="94.5" fill="#fff" stroke-linejoin="miter"/>
<rect x="1453.6" y="1090" width="47.2" height="245.2" fill="#808080" stroke-linejoin="miter"/>
<line x1="1352.5" y1="1035" x2="1352.5" y2="1336.2"/>
<line x1="1339.5" y1="1335.2" x2="1529" y2="1335.2"/>
<line x1="1339.5" y1="1335.2" x2="1352.5" y2="1335.2"/>
<line x1="1339.5" y1="1275.16" x2="1352.5" y2="1275.16"/>
<line x1="1339.5" y1="1215.12" x2="1352.5" y2="1215.12"/>
<line x1="1339.5" y1="1155.08" x2="1352.5" y2="1155.08"/>
<line x1="1339.5" y1="1095.04" x2="1352.5" y2="1095.04"/>
<line x1="1339.5" y1="1035" x2="1352.5" y2="1035"/>
<line x1="1402" y1="1226.6" x2="1402" y2="1251.7"/>
<line x1="1389.5" y1="1226.6" x2="1414.5" y2="1226.6"/>
<line x1="1389.5" y1="1251.7" x2="1414.5" y2="1251.7"/>
<line x1="1477.2" y1="1060.7" x2="1477.2" y2="1117.2"/>
<line x1="1464.7" y1="1060.7" x2="1489.7" y2="1060.7"/>
<line x1="1464.7" y1="1117.2" x2="1489.7" y2="1117.2"/>
<polyline points="1401.8,1028.4 1401.8,1016.4 1477.3,1016.4 1477.3,1028.4" stroke-linejoin="miter"/>
</g>
<rect x="1394.4" y="1210.4" width="15" height="15" fill="#000"/>
<rect x="1394.4" y="1227.3" width="15" height="15" fill="#000"/>
<rect x="1394.4" y="1253.3" width="15" height="15" fill="#000"/>
<circle cx="1476.9" cy="1041.4" r="7.8" fill="#000"/>
<circle cx="1476.9" cy="1082.3" r="7.8" fill="#000"/>
<circle cx="1476.9" cy="1139.3" r="7.8" fill="#000"/>
<text x="1439.95" y="1021.4" font-family='"Liberation Sans", Arial, Helvetica, sans-serif' font-size="28" letter-spacing="1.3" stroke="#000" stroke-width="0.8" stroke-linejoin="round" text-anchor="middle" fill="#000">***</text>
<text x="1336" y="1346.7" font-family='"Liberation Sans", Arial, Helvetica, sans-serif' font-size="33.8" text-anchor="end" fill="#000">0</text>
<text x="1336" y="1286.66" font-family='"Liberation Sans", Arial, Helvetica, sans-serif' font-size="33.8" text-anchor="end" fill="#000">5</text>
<text x="1336" y="1226.62" font-family='"Liberation Sans", Arial, Helvetica, sans-serif' font-size="33.8" text-anchor="end" fill="#000">10</text>
<text x="1336" y="1166.58" font-family='"Liberation Sans", Arial, Helvetica, sans-serif' font-size="33.8" text-anchor="end" fill="#000">15</text>
<text x="1336" y="1106.54" font-family='"Liberation Sans", Arial, Helvetica, sans-serif' font-size="33.8" text-anchor="end" fill="#000">20</text>
<text x="1336" y="1046.5" font-family='"Liberation Sans", Arial, Helvetica, sans-serif' font-size="33.8" text-anchor="end" fill="#000">25</text>
<text transform="translate(1288 1178) rotate(-90)" font-family='"Liberation Sans", Arial, Helvetica, sans-serif' font-size="34" text-anchor="middle" fill="#000">p-STAT3 MFI (x 10<tspan font-size="25" dy="-14">3</tspan><tspan dy="14">)</tspan></text>
<text transform="translate(1413.4 1363.8) rotate(-45)" font-family='"Liberation Sans", Arial, Helvetica, sans-serif' font-size="33" text-anchor="end" fill="#000" stroke="#000" stroke-width="0.3">Beads<tspan font-size="25" dx="2.2" dy="-18">3/28</tspan></text>
<text transform="translate(1487.3 1365.1) rotate(-45)" font-family='"Liberation Sans", Arial, Helvetica, sans-serif' font-size="33" text-anchor="end" fill="#000" stroke="#000" stroke-width="0.3">GO-APP<tspan font-size="25" dx="0.4" dy="-18">3/28</tspan></text>
<g stroke="#000" stroke-width="3.0" stroke-linecap="round" fill="none">
<rect x="1713" y="1190.4" width="46.8" height="133" fill="#fff" stroke-linejoin="miter"/>
<rect x="1788" y="1115.4" width="47.2" height="208" fill="#808080" stroke-linejoin="miter"/>
<line x1="1686.9" y1="1023" x2="1686.9" y2="1324.4"/>
<line x1="1673.9" y1="1323.4" x2="1863.4" y2="1323.4"/>
<line x1="1673.9" y1="1323.4" x2="1686.9" y2="1323.4"/>
<line x1="1673.9" y1="1248.3" x2="1686.9" y2="1248.3"/>
<line x1="1673.9" y1="1173.2" x2="1686.9" y2="1173.2"/>
<line x1="1673.9" y1="1098.1" x2="1686.9" y2="1098.1"/>
<line x1="1673.9" y1="1023" x2="1686.9" y2="1023"/>
<line x1="1736.4" y1="1130.6" x2="1736.4" y2="1247.1"/>
<line x1="1723.9" y1="1130.6" x2="1748.9" y2="1130.6"/>
<line x1="1723.9" y1="1247.1" x2="1748.9" y2="1247.1"/>
<line x1="1811.6" y1="1068.6" x2="1811.6" y2="1159.2"/>
<line x1="1799.1" y1="1068.6" x2="1824.1" y2="1068.6"/>
<line x1="1799.1" y1="1159.2" x2="1824.1" y2="1159.2"/>
<polyline points="1736.6,1045.4 1736.6,1033 1812,1033 1812,1045.4" stroke-linejoin="miter"/>
</g>
<rect x="1729" y="1077.8" width="15" height="15" fill="#000"/>
<rect x="1729" y="1183.4" width="15" height="15" fill="#000"/>
<rect x="1729" y="1278.9" width="15" height="15" fill="#000"/>
<circle cx="1811.8" cy="1059" r="7.8" fill="#000"/>
<circle cx="1811.8" cy="1076.3" r="7.8" fill="#000"/>
<circle cx="1811.8" cy="1203.5" r="7.8" fill="#000"/>
<text x="1773.8" y="1023.1" font-family='"Liberation Sans", Arial, Helvetica, sans-serif' font-size="33" text-anchor="middle" fill="#000">ns</text>
<text x="1670.4" y="1334.9" font-family='"Liberation Sans", Arial, Helvetica, sans-serif' font-size="33.8" text-anchor="end" fill="#000">0.70</text>
<text x="1670.4" y="1259.8" font-family='"Liberation Sans", Arial, Helvetica, sans-serif' font-size="33.8" text-anchor="end" fill="#000">0.75</text>
<text x="1670.4" y="1184.7" font-family='"Liberation Sans", Arial, Helvetica, sans-serif' font-size="33.8" text-anchor="end" fill="#000">0.80</text>
<text x="1670.4" y="1109.6" font-family='"Liberation Sans", Arial, Helvetica, sans-serif' font-size="33.8" text-anchor="end" fill="#000">0.85</text>
<text x="1670.4" y="1034.5" font-family='"Liberation Sans", Arial, Helvetica, sans-serif' font-size="33.8" text-anchor="end" fill="#000">0.90</text>
<text transform="translate(1594.5 1168) rotate(-90)" font-family='"Liberation Sans", Arial, Helvetica, sans-serif' font-size="33" text-anchor="middle" fill="#000">p-STAT3/STAT3 ratio</text>
<text transform="translate(1747.8 1352) rotate(-45)" font-family='"Liberation Sans", Arial, Helvetica, sans-serif' font-size="33" text-anchor="end" fill="#000" stroke="#000" stroke-width="0.3">Beads<tspan font-size="25" dx="2.2" dy="-18">3/28</tspan></text>
<text transform="translate(1821.7 1353.3) rotate(-45)" font-family='"Liberation Sans", Arial, Helvetica, sans-serif' font-size="33" text-anchor="end" fill="#000" stroke="#000" stroke-width="0.3">GO-APP<tspan font-size="25" dx="0.4" dy="-18">3/28</tspan></text>
<g stroke="#000" stroke-width="3.0" stroke-linecap="round" fill="none">
<rect x="129.6" y="1754.9" width="46.8" height="42.4" fill="#fff" stroke-linejoin="miter"/>
<rect x="204.6" y="1563.8" width="47.2" height="233.5" fill="#808080" stroke-linejoin="miter"/>
<line x1="103.5" y1="1497.2" x2="103.5" y2="1798.3"/>
<line x1="90.5" y1="1797.3" x2="280" y2="1797.3"/>
<line x1="90.5" y1="1797.3" x2="103.5" y2="1797.3"/>
<line x1="90.5" y1="1697.27" x2="103.5" y2="1697.27"/>
<line x1="90.5" y1="1597.23" x2="103.5" y2="1597.23"/>
<line x1="90.5" y1="1497.2" x2="103.5" y2="1497.2"/>
<line x1="153" y1="1749.3" x2="153" y2="1757.3"/>
<line x1="140.5" y1="1749.3" x2="165.5" y2="1749.3"/>
<line x1="140.5" y1="1757.3" x2="165.5" y2="1757.3"/>
<line x1="228.2" y1="1542.7" x2="228.2" y2="1581.8"/>
<line x1="215.7" y1="1542.7" x2="240.7" y2="1542.7"/>
<line x1="215.7" y1="1581.8" x2="240.7" y2="1581.8"/>
<polyline points="153.8,1519.4 153.8,1507.4 229.7,1507.4 229.7,1519.4" stroke-linejoin="miter"/>
</g>
<rect x="128.8" y="1751.3" width="15" height="15" fill="#000"/>
<rect x="146" y="1741.3" width="15" height="15" fill="#000"/>
<rect x="163.4" y="1741.3" width="15" height="15" fill="#000"/>
<circle cx="210.9" cy="1538" r="7.8" fill="#000"/>
<circle cx="245.9" cy="1546.6" r="7.8" fill="#000"/>
<circle cx="228.5" cy="1599.9" r="7.8" fill="#000"/>
<text x="191.55" y="1511.8" font-family='"Liberation Sans", Arial, Helvetica, sans-serif' font-size="28" letter-spacing="1.3" stroke="#000" stroke-width="0.8" stroke-linejoin="round" text-anchor="middle" fill="#000">***</text>
<text x="87" y="1808.8" font-family='"Liberation Sans", Arial, Helvetica, sans-serif' font-size="33.8" text-anchor="end" fill="#000">0</text>
<text x="87" y="1708.77" font-family='"Liberation Sans", Arial, Helvetica, sans-serif' font-size="33.8" text-anchor="end" fill="#000">15</text>
<text x="87" y="1608.73" font-family='"Liberation Sans", Arial, Helvetica, sans-serif' font-size="33.8" text-anchor="end" fill="#000">30</text>
<text x="87" y="1508.7" font-family='"Liberation Sans", Arial, Helvetica, sans-serif' font-size="33.8" text-anchor="end" fill="#000">45</text>
<text transform="translate(39 1643) rotate(-90)" font-family='"Liberation Sans", Arial, Helvetica, sans-serif' font-size="34" text-anchor="middle" fill="#000">c-Jun MFI (x 10<tspan font-size="25" dy="-14">3</tspan><tspan dy="14">)</tspan></text>
<text transform="translate(164.4 1825.9) rotate(-45)" font-family='"Liberation Sans", Arial, Helvetica, sans-serif' font-size="33" text-anchor="end" fill="#000" stroke="#000" stroke-width="0.3">Beads<tspan font-size="25" dx="2.2" dy="-18">3/28</tspan></text>
<text transform="translate(238.3 1827.2) rotate(-45)" font-family='"Liberation Sans", Arial, Helvetica, sans-serif' font-size="33" text-anchor="end" fill="#000" stroke="#000" stroke-width="0.3">GO-APP<tspan font-size="25" dx="0.4" dy="-18">3/28</tspan></text>
<g stroke="#000" stroke-width="3.0" stroke-linecap="round" fill="none">
<rect x="442" y="1729.3" width="46.8" height="68" fill="#fff" stroke-linejoin="miter"/>
<rect x="517" y="1533.5" width="47.2" height="263.8" fill="#808080" stroke-linejoin="miter"/>
<line x1="415.9" y1="1497.2" x2="415.9" y2="1798.3"/>
<line x1="402.9" y1="1797.3" x2="592.4" y2="1797.3"/>
<line x1="402.9" y1="1797.3" x2="415.9" y2="1797.3"/>
<line x1="402.9" y1="1737.28" x2="415.9" y2="1737.28"/>
<line x1="402.9" y1="1677.26" x2="415.9" y2="1677.26"/>
<line x1="402.9" y1="1617.24" x2="415.9" y2="1617.24"/>
<line x1="402.9" y1="1557.22" x2="415.9" y2="1557.22"/>
<line x1="402.9" y1="1497.2" x2="415.9" y2="1497.2"/>
<line x1="465.4" y1="1721.2" x2="465.4" y2="1735.7"/>
<line x1="452.9" y1="1721.2" x2="477.9" y2="1721.2"/>
<line x1="452.9" y1="1735.7" x2="477.9" y2="1735.7"/>
<line x1="540.6" y1="1525.3" x2="540.6" y2="1536.3"/>
<line x1="528.1" y1="1525.3" x2="553.1" y2="1525.3"/>
<line x1="528.1" y1="1536.3" x2="553.1" y2="1536.3"/>
<polyline points="464.6,1507.8 464.6,1495.8 540.7,1495.8 540.7,1507.8" stroke-linejoin="miter"/>
</g>
<rect x="440.4" y="1710.4" width="15" height="15" fill="#000"/>
<rect x="474.8" y="1715.4" width="15" height="15" fill="#000"/>
<rect x="457.4" y="1733.7" width="15" height="15" fill="#000"/>
<circle cx="522.3" cy="1519" r="7.8" fill="#000"/>
<circle cx="522.3" cy="1539" r="7.8" fill="#000"/>
<circle cx="557.9" cy="1534" r="7.8" fill="#000"/>
<text x="500.55" y="1498.8" font-family='"Liberation Sans", Arial, Helvetica, sans-serif' font-size="28" letter-spacing="1.3" stroke="#000" stroke-width="0.8" stroke-linejoin="round" text-anchor="middle" fill="#000">***</text>
<text x="399.4" y="1808.8" font-family='"Liberation Sans", Arial, Helvetica, sans-serif' font-size="33.8" text-anchor="end" fill="#000">0</text>
<text x="399.4" y="1748.78" font-family='"Liberation Sans", Arial, Helvetica, sans-serif' font-size="33.8" text-anchor="end" fill="#000">5</text>
<text x="399.4" y="1688.76" font-family='"Liberation Sans", Arial, Helvetica, sans-serif' font-size="33.8" text-anchor="end" fill="#000">10</text>
<text x="399.4" y="1628.74" font-family='"Liberation Sans", Arial, Helvetica, sans-serif' font-size="33.8" text-anchor="end" fill="#000">15</text>
<text x="399.4" y="1568.72" font-family='"Liberation Sans", Arial, Helvetica, sans-serif' font-size="33.8" text-anchor="end" fill="#000">20</text>
<text x="399.4" y="1508.7" font-family='"Liberation Sans", Arial, Helvetica, sans-serif' font-size="33.8" text-anchor="end" fill="#000">25</text>
<text transform="translate(352 1640) rotate(-90)" font-family='"Liberation Sans", Arial, Helvetica, sans-serif' font-size="33.6" text-anchor="middle" fill="#000">p-c-Jun MFI (x 10<tspan font-size="25" dy="-14">3</tspan><tspan dy="14">)</tspan></text>
<text transform="translate(476.8 1825.9) rotate(-45)" font-family='"Liberation Sans", Arial, Helvetica, sans-serif' font-size="33" text-anchor="end" fill="#000" stroke="#000" stroke-width="0.3">Beads<tspan font-size="25" dx="2.2" dy="-18">3/28</tspan></text>
<text transform="translate(550.7 1827.2) rotate(-45)" font-family='"Liberation Sans", Arial, Helvetica, sans-serif' font-size="33" text-anchor="end" fill="#000" stroke="#000" stroke-width="0.3">GO-APP<tspan font-size="25" dx="0.4" dy="-18">3/28</tspan></text>
<g stroke="#000" stroke-width="3.0" stroke-linecap="round" fill="none">
<rect x="754" y="1655" width="46.8" height="142.3" fill="#fff" stroke-linejoin="miter"/>
<rect x="829" y="1555.5" width="47.2" height="241.8" fill="#808080" stroke-linejoin="miter"/>
<line x1="727.9" y1="1497.2" x2="727.9" y2="1798.3"/>
<line x1="714.9" y1="1797.3" x2="904.4" y2="1797.3"/>
<line x1="714.9" y1="1797.3" x2="727.9" y2="1797.3"/>
<line x1="714.9" y1="1737.28" x2="727.9" y2="1737.28"/>
<line x1="714.9" y1="1677.26" x2="727.9" y2="1677.26"/>
<line x1="714.9" y1="1617.24" x2="727.9" y2="1617.24"/>
<line x1="714.9" y1="1557.22" x2="727.9" y2="1557.22"/>
<line x1="714.9" y1="1497.2" x2="727.9" y2="1497.2"/>
<line x1="777.4" y1="1626.2" x2="777.4" y2="1681.2"/>
<line x1="764.9" y1="1626.2" x2="789.9" y2="1626.2"/>
<line x1="764.9" y1="1681.2" x2="789.9" y2="1681.2"/>
<line x1="852.6" y1="1553.3" x2="852.6" y2="1557.3"/>
<line x1="840.1" y1="1553.3" x2="865.1" y2="1553.3"/>
<line x1="840.1" y1="1557.3" x2="865.1" y2="1557.3"/>
<polyline points="781.6,1534.4 781.6,1522.8 845.3,1522.8 845.3,1534.4" stroke-linejoin="miter"/>
</g>
<rect x="769.4" y="1607.4" width="15" height="15" fill="#000"/>
<rect x="769.4" y="1631" width="15" height="15" fill="#000"/>
<rect x="769.4" y="1698.4" width="15" height="15" fill="#000"/>
<circle cx="834.3" cy="1557.9" r="7.8" fill="#000"/>
<circle cx="851.9" cy="1550" r="7.8" fill="#000"/>
<circle cx="869.9" cy="1556.3" r="7.8" fill="#000"/>
<text x="814.95" y="1525.4" font-family='"Liberation Sans", Arial, Helvetica, sans-serif' font-size="28" letter-spacing="1.3" stroke="#000" stroke-width="0.8" stroke-linejoin="round" text-anchor="middle" fill="#000">*</text>
<text x="711.4" y="1808.8" font-family='"Liberation Sans", Arial, Helvetica, sans-serif' font-size="33.8" text-anchor="end" fill="#000">0.0</text>
<text x="711.4" y="1748.78" font-family='"Liberation Sans", Arial, Helvetica, sans-serif' font-size="33.8" text-anchor="end" fill="#000">0.2</text>
<text x="711.4" y="1688.76" font-family='"Liberation Sans", Arial, Helvetica, sans-serif' font-size="33.8" text-anchor="end" fill="#000">0.4</text>
<text x="711.4" y="1628.74" font-family='"Liberation Sans", Arial, Helvetica, sans-serif' font-size="33.8" text-anchor="end" fill="#000">0.6</text>
<text x="711.4" y="1568.72" font-family='"Liberation Sans", Arial, Helvetica, sans-serif' font-size="33.8" text-anchor="end" fill="#000">0.8</text>
<text x="711.4" y="1508.7" font-family='"Liberation Sans", Arial, Helvetica, sans-serif' font-size="33.8" text-anchor="end" fill="#000">1.0</text>
<text transform="translate(664 1645) rotate(-90)" font-family='"Liberation Sans", Arial, Helvetica, sans-serif' font-size="32.6" text-anchor="middle" fill="#000">p-c-Jun/c-Jun ratio</text>
<text transform="translate(788.8 1825.9) rotate(-45)" font-family='"Liberation Sans", Arial, Helvetica, sans-serif' font-size="33" text-anchor="end" fill="#000" stroke="#000" stroke-width="0.3">Beads<tspan font-size="25" dx="2.2" dy="-18">3/28</tspan></text>
<text transform="translate(862.7 1827.2) rotate(-45)" font-family='"Liberation Sans", Arial, Helvetica, sans-serif' font-size="33" text-anchor="end" fill="#000" stroke="#000" stroke-width="0.3">GO-APP<tspan font-size="25" dx="0.4" dy="-18">3/28</tspan></text>
<g stroke="#000" stroke-width="3.0" stroke-linecap="round" fill="none">
<rect x="1065" y="1694.4" width="46.8" height="102.9" fill="#fff" stroke-linejoin="miter"/>
<rect x="1140" y="1560.4" width="47.2" height="236.9" fill="#808080" stroke-linejoin="miter"/>
<line x1="1038.9" y1="1497.2" x2="1038.9" y2="1798.3"/>
<line x1="1025.9" y1="1797.3" x2="1215.4" y2="1797.3"/>
<line x1="1025.9" y1="1797.3" x2="1038.9" y2="1797.3"/>
<line x1="1025.9" y1="1697.27" x2="1038.9" y2="1697.27"/>
<line x1="1025.9" y1="1597.23" x2="1038.9" y2="1597.23"/>
<line x1="1025.9" y1="1497.2" x2="1038.9" y2="1497.2"/>
<line x1="1088.4" y1="1683.2" x2="1088.4" y2="1703.2"/>
<line x1="1075.9" y1="1683.2" x2="1100.9" y2="1683.2"/>
<line x1="1075.9" y1="1703.2" x2="1100.9" y2="1703.2"/>
<line x1="1163.6" y1="1549.3" x2="1163.6" y2="1569.8"/>
<line x1="1151.1" y1="1549.3" x2="1176.1" y2="1549.3"/>
<line x1="1151.1" y1="1569.8" x2="1176.1" y2="1569.8"/>
<polyline points="1090.6,1532.4 1090.6,1520.4 1165.1,1520.4 1165.1,1532.4" stroke-linejoin="miter"/>
</g>
<rect x="1063.4" y="1667.4" width="15" height="15" fill="#000"/>
<rect x="1098.4" y="1682.4" width="15" height="15" fill="#000"/>
<rect x="1080.8" y="1703.4" width="15" height="15" fill="#000"/>
<circle cx="1145.5" cy="1543" r="7.8" fill="#000"/>
<circle cx="1180.8" cy="1555" r="7.8" fill="#000"/>
<circle cx="1163.3" cy="1577.9" r="7.8" fill="#000"/>
<text x="1130.55" y="1522.4" font-family='"Liberation Sans", Arial, Helvetica, sans-serif' font-size="28" letter-spacing="1.3" stroke="#000" stroke-width="0.8" stroke-linejoin="round" text-anchor="middle" fill="#000">***</text>
<text x="1022.4" y="1808.8" font-family='"Liberation Sans", Arial, Helvetica, sans-serif' font-size="33.8" text-anchor="end" fill="#000">0</text>
<text x="1022.4" y="1708.77" font-family='"Liberation Sans", Arial, Helvetica, sans-serif' font-size="33.8" text-anchor="end" fill="#000">5</text>
<text x="1022.4" y="1608.73" font-family='"Liberation Sans", Arial, Helvetica, sans-serif' font-size="33.8" text-anchor="end" fill="#000">10</text>
<text x="1022.4" y="1508.7" font-family='"Liberation Sans", Arial, Helvetica, sans-serif' font-size="33.8" text-anchor="end" fill="#000">15</text>
<text transform="translate(979 1643.5) rotate(-90)" font-family='"Liberation Sans", Arial, Helvetica, sans-serif' font-size="34" text-anchor="middle" fill="#000">c-Fos MFI (x10<tspan font-size="25" dy="-14">3</tspan><tspan dy="14">)</tspan></text>
<text transform="translate(1099.8 1825.9) rotate(-45)" font-family='"Liberation Sans", Arial, Helvetica, sans-serif' font-size="33" text-anchor="end" fill="#000" stroke="#000" stroke-width="0.3">Beads<tspan font-size="25" dx="2.2" dy="-18">3/28</tspan></text>
<text transform="translate(1173.7 1827.2) rotate(-45)" font-family='"Liberation Sans", Arial, Helvetica, sans-serif' font-size="33" text-anchor="end" fill="#000" stroke="#000" stroke-width="0.3">GO-APP<tspan font-size="25" dx="0.4" dy="-18">3/28</tspan></text>
<g stroke="#000" stroke-width="3.0" stroke-linecap="round" fill="none">
<rect x="1378" y="1696.4" width="46.8" height="100.9" fill="#fff" stroke-linejoin="miter"/>
<rect x="1453" y="1546.5" width="47.2" height="250.8" fill="#808080" stroke-linejoin="miter"/>
<line x1="1351.9" y1="1497.2" x2="1351.9" y2="1798.3"/>
<line x1="1338.9" y1="1797.3" x2="1528.4" y2="1797.3"/>
<line x1="1338.9" y1="1797.3" x2="1351.9" y2="1797.3"/>
<line x1="1338.9" y1="1722.28" x2="1351.9" y2="1722.28"/>
<line x1="1338.9" y1="1647.25" x2="1351.9" y2="1647.25"/>
<line x1="1338.9" y1="1572.22" x2="1351.9" y2="1572.22"/>
<line x1="1338.9" y1="1497.2" x2="1351.9" y2="1497.2"/>
<line x1="1401.4" y1="1684.2" x2="1401.4" y2="1703.8"/>
<line x1="1388.9" y1="1684.2" x2="1413.9" y2="1684.2"/>
<line x1="1388.9" y1="1703.8" x2="1413.9" y2="1703.8"/>
<line x1="1476.6" y1="1541.3" x2="1476.6" y2="1548.3"/>
<line x1="1464.1" y1="1541.3" x2="1489.1" y2="1541.3"/>
<line x1="1464.1" y1="1548.3" x2="1489.1" y2="1548.3"/>
<polyline points="1401.2,1515.8 1401.2,1503.4 1476.7,1503.4 1476.7,1515.8" stroke-linejoin="miter"/>
</g>
<rect x="1376.4" y="1670.8" width="15" height="15" fill="#000"/>
<rect x="1411.4" y="1683.8" width="15" height="15" fill="#000"/>
<rect x="1393.4" y="1703" width="15" height="15" fill="#000"/>
<circle cx="1458.3" cy="1549.4" r="7.8" fill="#000"/>
<circle cx="1475.9" cy="1535.6" r="7.8" fill="#000"/>
<circle cx="1493.9" cy="1548" r="7.8" fill="#000"/>
<text x="1440.55" y="1507.4" font-family='"Liberation Sans", Arial, Helvetica, sans-serif' font-size="28" letter-spacing="1.3" stroke="#000" stroke-width="0.8" stroke-linejoin="round" text-anchor="middle" fill="#000">***</text>
<text x="1335.4" y="1808.8" font-family='"Liberation Sans", Arial, Helvetica, sans-serif' font-size="33.8" text-anchor="end" fill="#000">0</text>
<text x="1335.4" y="1733.78" font-family='"Liberation Sans", Arial, Helvetica, sans-serif' font-size="33.8" text-anchor="end" fill="#000">2</text>
<text x="1335.4" y="1658.75" font-family='"Liberation Sans", Arial, Helvetica, sans-serif' font-size="33.8" text-anchor="end" fill="#000">4</text>
<text x="1335.4" y="1583.72" font-family='"Liberation Sans", Arial, Helvetica, sans-serif' font-size="33.8" text-anchor="end" fill="#000">6</text>
<text x="1335.4" y="1508.7" font-family='"Liberation Sans", Arial, Helvetica, sans-serif' font-size="33.8" text-anchor="end" fill="#000">8</text>
<text transform="translate(1307 1643) rotate(-90)" font-family='"Liberation Sans", Arial, Helvetica, sans-serif' font-size="34" text-anchor="middle" fill="#000">p-c-Fos MFI (x 10<tspan font-size="25" dy="-14">3</tspan><tspan dy="14">)</tspan></text>
<text transform="translate(1412.8 1825.9) rotate(-45)" font-family='"Liberation Sans", Arial, Helvetica, sans-serif' font-size="33" text-anchor="end" fill="#000" stroke="#000" stroke-width="0.3">Beads<tspan font-size="25" dx="2.2" dy="-18">3/28</tspan></text>
<text transform="translate(1486.7 1827.2) rotate(-45)" font-family='"Liberation Sans", Arial, Helvetica, sans-serif' font-size="33" text-anchor="end" fill="#000" stroke="#000" stroke-width="0.3">GO-APP<tspan font-size="25" dx="0.4" dy="-18">3/28</tspan></text>
<g stroke="#000" stroke-width="3.0" stroke-linecap="round" fill="none">
<rect x="1713" y="1672" width="46.8" height="125.3" fill="#fff" stroke-linejoin="miter"/>
<rect x="1788" y="1561.4" width="47.2" height="235.9" fill="#808080" stroke-linejoin="miter"/>
<line x1="1686.9" y1="1497.2" x2="1686.9" y2="1798.3"/>
<line x1="1673.9" y1="1797.3" x2="1863.4" y2="1797.3"/>
<line x1="1673.9" y1="1797.3" x2="1686.9" y2="1797.3"/>
<line x1="1673.9" y1="1722.28" x2="1686.9" y2="1722.28"/>
<line x1="1673.9" y1="1647.25" x2="1686.9" y2="1647.25"/>
<line x1="1673.9" y1="1572.22" x2="1686.9" y2="1572.22"/>
<line x1="1673.9" y1="1497.2" x2="1686.9" y2="1497.2"/>
<line x1="1736.4" y1="1646.6" x2="1736.4" y2="1695.6"/>
<line x1="1723.9" y1="1646.6" x2="1748.9" y2="1646.6"/>
<line x1="1723.9" y1="1695.6" x2="1748.9" y2="1695.6"/>
<line x1="1811.6" y1="1549.3" x2="1811.6" y2="1571.2"/>
<line x1="1799.1" y1="1549.3" x2="1824.1" y2="1549.3"/>
<line x1="1799.1" y1="1571.2" x2="1824.1" y2="1571.2"/>
<polyline points="1736.6,1523.4 1736.6,1511.4 1812,1511.4 1812,1523.4" stroke-linejoin="miter"/>
</g>
<rect x="1729" y="1624" width="15" height="15" fill="#000"/>
<rect x="1729" y="1654.4" width="15" height="15" fill="#000"/>
<rect x="1729" y="1708.8" width="15" height="15" fill="#000"/>
<circle cx="1793.8" cy="1544" r="7.8" fill="#000"/>
<circle cx="1829.2" cy="1553" r="7.8" fill="#000"/>
<circle cx="1811.4" cy="1580.9" r="7.8" fill="#000"/>
<text x="1777.45" y="1515.4" font-family='"Liberation Sans", Arial, Helvetica, sans-serif' font-size="28" letter-spacing="1.3" stroke="#000" stroke-width="0.8" stroke-linejoin="round" text-anchor="middle" fill="#000">*</text>
<text x="1670.4" y="1808.8" font-family='"Liberation Sans", Arial, Helvetica, sans-serif' font-size="33.8" text-anchor="end" fill="#000">0.0</text>
<text x="1670.4" y="1733.78" font-family='"Liberation Sans", Arial, Helvetica, sans-serif' font-size="33.8" text-anchor="end" fill="#000">0.2</text>
<text x="1670.4" y="1658.75" font-family='"Liberation Sans", Arial, Helvetica, sans-serif' font-size="33.8" text-anchor="end" fill="#000">0.4</text>
<text x="1670.4" y="1583.72" font-family='"Liberation Sans", Arial, Helvetica, sans-serif' font-size="33.8" text-anchor="end" fill="#000">0.6</text>
<text x="1670.4" y="1508.7" font-family='"Liberation Sans", Arial, Helvetica, sans-serif' font-size="33.8" text-anchor="end" fill="#000">0.8</text>
<text transform="translate(1622 1640) rotate(-90)" font-family='"Liberation Sans", Arial, Helvetica, sans-serif' font-size="33" text-anchor="middle" fill="#000">p-c-Fos/c-Fos ratio</text>
<text transform="translate(1747.8 1825.9) rotate(-45)" font-family='"Liberation Sans", Arial, Helvetica, sans-serif' font-size="33" text-anchor="end" fill="#000" stroke="#000" stroke-width="0.3">Beads<tspan font-size="25" dx="2.2" dy="-18">3/28</tspan></text>
<text transform="translate(1821.7 1827.2) rotate(-45)" font-family='"Liberation Sans", Arial, Helvetica, sans-serif' font-size="33" text-anchor="end" fill="#000" stroke="#000" stroke-width="0.3">GO-APP<tspan font-size="25" dx="0.4" dy="-18">3/28</tspan></text>
</svg>
</body>
</html>
